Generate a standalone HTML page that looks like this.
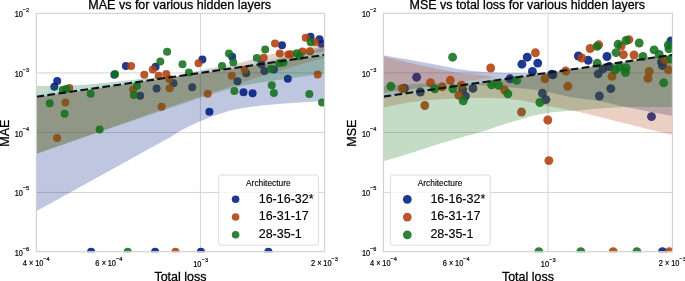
<!DOCTYPE html><html><head><meta charset="utf-8"><style>html,body{margin:0;padding:0;background:#fff;overflow:hidden}svg{display:block}</style></head><body>
<svg style="will-change:transform" width="685" height="281" viewBox="0 0 685 281" font-family='&quot;Liberation Sans&quot;, sans-serif'>
<style>text{stroke:#000;stroke-width:0.28px}text.s{stroke-width:0.18px}text.l{stroke-width:0.14px}text.a{stroke-width:0.12px}</style>
<rect width="685" height="281" fill="#fff"/>
<defs>
<clipPath id="c0"><rect x="36.35" y="13.34" width="288.15" height="238.93"/></clipPath>
<clipPath id="c1"><rect x="383.50" y="13.34" width="288.90" height="238.93"/></clipPath>
</defs>
<g clip-path="url(#c0)">
<line x1="36.35" x2="324.50" y1="72.92" y2="72.92" stroke="#d4d4d4" stroke-width="1"/>
<line x1="36.35" x2="324.50" y1="132.50" y2="132.50" stroke="#d4d4d4" stroke-width="1"/>
<line x1="36.35" x2="324.50" y1="192.44" y2="192.44" stroke="#d4d4d4" stroke-width="1"/>
<line x1="200.40" x2="200.40" y1="13.34" y2="251.67" stroke="#d4d4d4" stroke-width="1"/>
<circle cx="57.20" cy="81.10" r="4.00" fill="rgb(0,28,127)" fill-opacity="0.88"/>
<circle cx="54.30" cy="86.80" r="4.00" fill="rgb(0,28,127)" fill-opacity="0.88"/>
<circle cx="125.90" cy="65.90" r="4.00" fill="rgb(0,28,127)" fill-opacity="0.88"/>
<circle cx="114.40" cy="74.80" r="4.00" fill="rgb(0,28,127)" fill-opacity="0.88"/>
<circle cx="140.20" cy="95.80" r="4.00" fill="rgb(0,28,127)" fill-opacity="0.88"/>
<circle cx="155.60" cy="66.70" r="4.00" fill="rgb(0,28,127)" fill-opacity="0.88"/>
<circle cx="173.50" cy="83.20" r="4.00" fill="rgb(0,28,127)" fill-opacity="0.88"/>
<circle cx="156.60" cy="88.60" r="4.00" fill="rgb(0,28,127)" fill-opacity="0.88"/>
<circle cx="202.40" cy="59.60" r="4.00" fill="rgb(0,28,127)" fill-opacity="0.88"/>
<circle cx="232.20" cy="56.80" r="4.00" fill="rgb(0,28,127)" fill-opacity="0.88"/>
<circle cx="282.00" cy="45.20" r="4.00" fill="rgb(0,28,127)" fill-opacity="0.88"/>
<circle cx="310.50" cy="36.80" r="4.00" fill="rgb(0,28,127)" fill-opacity="0.88"/>
<circle cx="319.50" cy="39.20" r="4.00" fill="rgb(0,28,127)" fill-opacity="0.88"/>
<circle cx="321.50" cy="43.70" r="4.00" fill="rgb(0,28,127)" fill-opacity="0.88"/>
<circle cx="273.90" cy="69.60" r="4.00" fill="rgb(0,28,127)" fill-opacity="0.88"/>
<circle cx="264.30" cy="71.10" r="4.00" fill="rgb(0,28,127)" fill-opacity="0.88"/>
<circle cx="192.20" cy="87.20" r="4.00" fill="rgb(0,28,127)" fill-opacity="0.88"/>
<circle cx="261.50" cy="64.30" r="4.00" fill="rgb(0,28,127)" fill-opacity="0.88"/>
<circle cx="209.40" cy="111.80" r="4.00" fill="rgb(0,28,127)" fill-opacity="0.88"/>
<circle cx="237.50" cy="81.30" r="4.00" fill="rgb(0,28,127)" fill-opacity="0.88"/>
<circle cx="246.20" cy="73.30" r="4.00" fill="rgb(0,28,127)" fill-opacity="0.88"/>
<circle cx="243.50" cy="92.30" r="4.00" fill="rgb(0,28,127)" fill-opacity="0.88"/>
<circle cx="252.60" cy="93.20" r="4.00" fill="rgb(0,28,127)" fill-opacity="0.88"/>
<circle cx="287.80" cy="78.70" r="4.00" fill="rgb(0,28,127)" fill-opacity="0.88"/>
<circle cx="91.10" cy="251.67" r="4.00" fill="rgb(0,28,127)" fill-opacity="0.88"/>
<circle cx="155.10" cy="251.67" r="4.00" fill="rgb(0,28,127)" fill-opacity="0.88"/>
<circle cx="200.90" cy="251.67" r="4.00" fill="rgb(0,28,127)" fill-opacity="0.88"/>
<circle cx="268.40" cy="251.67" r="4.00" fill="rgb(0,28,127)" fill-opacity="0.88"/>
<path d="M35.4,96.86 L37.1,96.61 L38.8,96.36 L40.5,96.11 L42.2,95.86 L43.9,95.61 L45.7,95.36 L47.4,95.11 L49.1,94.86 L50.8,94.61 L52.5,94.36 L54.2,94.11 L56.0,93.87 L57.7,93.62 L59.4,93.37 L61.1,93.12 L62.8,92.87 L64.5,92.62 L66.3,92.37 L68.0,92.12 L69.7,91.87 L71.4,91.62 L73.1,91.37 L74.8,91.13 L76.6,90.88 L78.3,90.63 L80.0,90.38 L81.7,90.13 L83.4,89.88 L85.1,89.63 L86.9,89.38 L88.6,89.13 L90.3,88.88 L92.0,88.63 L93.7,88.39 L95.4,88.14 L97.2,87.89 L98.9,87.64 L100.6,87.39 L102.3,87.14 L104.0,86.89 L105.7,86.64 L107.5,86.39 L109.2,86.14 L110.9,85.89 L112.6,85.64 L114.3,85.40 L116.0,85.15 L117.8,84.90 L119.5,84.65 L121.2,84.40 L122.9,84.15 L124.6,83.90 L126.3,83.65 L128.1,83.40 L129.8,83.15 L131.5,82.90 L133.2,82.66 L134.9,82.41 L136.6,82.16 L138.4,81.91 L140.1,81.66 L141.8,81.41 L143.5,81.16 L145.2,80.91 L146.9,80.66 L148.7,80.41 L150.4,80.16 L152.1,79.92 L153.8,79.67 L155.5,79.42 L157.2,79.17 L159.0,78.92 L160.7,78.67 L162.4,78.42 L164.1,78.17 L165.8,77.92 L167.5,77.67 L169.3,77.42 L171.0,77.17 L172.7,76.93 L174.4,76.68 L176.1,76.43 L177.8,76.18 L179.6,75.93 L181.3,75.68 L183.0,75.43 L184.7,75.18 L186.4,74.93 L188.2,74.68 L189.9,74.43 L191.6,74.19 L193.3,73.94 L195.0,73.69 L196.7,73.44 L198.5,73.19 L200.2,72.94 L201.9,72.69 L203.6,72.44 L205.3,72.19 L207.0,71.94 L208.8,71.69 L210.5,71.45 L212.2,71.20 L213.9,70.95 L215.6,70.70 L217.3,70.45 L219.1,70.20 L220.8,69.95 L222.5,69.70 L224.2,69.45 L225.9,69.20 L227.6,68.95 L229.4,68.70 L231.1,68.46 L232.8,68.21 L234.5,67.96 L236.2,67.71 L237.9,67.46 L239.7,67.08 L241.4,66.68 L243.1,66.28 L244.8,65.88 L246.5,65.50 L248.2,65.11 L250.0,64.73 L251.7,64.36 L253.4,63.99 L255.1,63.61 L256.8,63.24 L258.5,62.87 L260.3,62.50 L262.0,62.13 L263.7,61.76 L265.4,61.38 L267.1,61.01 L268.8,60.62 L270.6,60.24 L272.3,59.85 L274.0,59.45 L275.7,59.04 L277.4,58.63 L279.1,58.21 L280.9,57.78 L282.6,57.35 L284.3,56.92 L286.0,56.47 L287.7,56.03 L289.4,55.58 L291.2,55.12 L292.9,54.67 L294.6,54.20 L296.3,53.74 L298.0,53.26 L299.7,52.79 L301.5,52.31 L303.2,51.83 L304.9,51.34 L306.6,50.85 L308.3,50.35 L310.0,49.85 L311.8,49.35 L313.5,48.84 L315.2,48.33 L316.9,47.82 L318.6,47.30 L320.3,46.78 L322.1,46.25 L323.8,45.72 L325.5,45.19 L325.5,100.95 L323.8,101.04 L322.1,101.12 L320.3,101.21 L318.6,101.30 L316.9,101.40 L315.2,101.49 L313.5,101.59 L311.8,101.69 L310.0,101.79 L308.3,101.90 L306.6,102.01 L304.9,102.11 L303.2,102.23 L301.5,102.34 L299.7,102.45 L298.0,102.57 L296.3,102.69 L294.6,102.81 L292.9,102.93 L291.2,103.05 L289.4,103.18 L287.7,103.30 L286.0,103.43 L284.3,103.56 L282.6,103.69 L280.9,103.83 L279.1,103.96 L277.4,104.10 L275.7,104.25 L274.0,104.39 L272.3,104.55 L270.6,104.70 L268.8,104.86 L267.1,105.02 L265.4,105.19 L263.7,105.36 L262.0,105.54 L260.3,105.73 L258.5,105.92 L256.8,106.14 L255.1,106.37 L253.4,106.61 L251.7,106.86 L250.0,107.11 L248.2,107.35 L246.5,107.60 L244.8,107.85 L243.1,108.10 L241.4,108.36 L239.7,108.64 L237.9,108.93 L236.2,109.24 L234.5,109.57 L232.8,109.93 L231.1,110.36 L229.4,110.83 L227.6,111.34 L225.9,111.88 L224.2,112.43 L222.5,112.97 L220.8,113.51 L219.1,114.06 L217.3,114.63 L215.6,115.21 L213.9,115.81 L212.2,116.43 L210.5,117.08 L208.8,117.75 L207.0,118.45 L205.3,119.16 L203.6,119.89 L201.9,120.62 L200.2,121.36 L198.5,122.09 L196.7,122.84 L195.0,123.60 L193.3,124.37 L191.6,125.15 L189.9,125.96 L188.2,126.79 L186.4,127.63 L184.7,128.48 L183.0,129.37 L181.3,130.29 L179.6,131.25 L177.8,132.28 L176.1,133.38 L174.4,134.50 L172.7,135.62 L171.0,136.71 L169.3,137.73 L167.5,138.71 L165.8,139.67 L164.1,140.61 L162.4,141.54 L160.7,142.46 L159.0,143.39 L157.2,144.32 L155.5,145.26 L153.8,146.21 L152.1,147.15 L150.4,148.10 L148.7,149.05 L146.9,150.00 L145.2,150.95 L143.5,151.89 L141.8,152.84 L140.1,153.79 L138.4,154.74 L136.6,155.69 L134.9,156.64 L133.2,157.59 L131.5,158.54 L129.8,159.49 L128.1,160.44 L126.3,161.39 L124.6,162.35 L122.9,163.30 L121.2,164.25 L119.5,165.20 L117.8,166.15 L116.0,167.10 L114.3,168.05 L112.6,169.00 L110.9,169.95 L109.2,170.90 L107.5,171.85 L105.7,172.80 L104.0,173.75 L102.3,174.70 L100.6,175.65 L98.9,176.60 L97.2,177.55 L95.4,178.50 L93.7,179.45 L92.0,180.40 L90.3,181.35 L88.6,182.30 L86.9,183.25 L85.1,184.20 L83.4,185.15 L81.7,186.10 L80.0,187.05 L78.3,188.00 L76.6,188.95 L74.8,189.90 L73.1,190.85 L71.4,191.80 L69.7,192.75 L68.0,193.70 L66.3,194.65 L64.5,195.60 L62.8,196.55 L61.1,197.50 L59.4,198.46 L57.7,199.41 L56.0,200.36 L54.2,201.31 L52.5,202.26 L50.8,203.21 L49.1,204.16 L47.4,205.11 L45.7,206.06 L43.9,207.01 L42.2,207.96 L40.5,208.91 L38.8,209.86 L37.1,210.81 L35.4,211.76 Z" fill="rgb(0,28,127)" fill-opacity="0.250"/>
<circle cx="69.30" cy="87.90" r="4.00" fill="rgb(177,64,13)" fill-opacity="0.88"/>
<circle cx="65.40" cy="102.40" r="4.00" fill="rgb(177,64,13)" fill-opacity="0.88"/>
<circle cx="57.10" cy="138.10" r="4.00" fill="rgb(177,64,13)" fill-opacity="0.88"/>
<circle cx="131.10" cy="66.10" r="4.00" fill="rgb(177,64,13)" fill-opacity="0.88"/>
<circle cx="144.30" cy="74.80" r="4.00" fill="rgb(177,64,13)" fill-opacity="0.88"/>
<circle cx="152.80" cy="69.50" r="4.00" fill="rgb(177,64,13)" fill-opacity="0.88"/>
<circle cx="158.60" cy="75.80" r="4.00" fill="rgb(177,64,13)" fill-opacity="0.88"/>
<circle cx="166.30" cy="73.90" r="4.00" fill="rgb(177,64,13)" fill-opacity="0.88"/>
<circle cx="169.30" cy="79.10" r="4.00" fill="rgb(177,64,13)" fill-opacity="0.88"/>
<circle cx="169.60" cy="88.30" r="4.00" fill="rgb(177,64,13)" fill-opacity="0.88"/>
<circle cx="133.20" cy="89.60" r="4.00" fill="rgb(177,64,13)" fill-opacity="0.88"/>
<circle cx="161.60" cy="106.70" r="4.00" fill="rgb(177,64,13)" fill-opacity="0.88"/>
<circle cx="198.50" cy="63.30" r="4.00" fill="rgb(177,64,13)" fill-opacity="0.88"/>
<circle cx="244.60" cy="69.60" r="4.00" fill="rgb(177,64,13)" fill-opacity="0.88"/>
<circle cx="263.70" cy="57.80" r="4.00" fill="rgb(177,64,13)" fill-opacity="0.88"/>
<circle cx="275.00" cy="43.40" r="4.00" fill="rgb(177,64,13)" fill-opacity="0.88"/>
<circle cx="279.80" cy="53.50" r="4.00" fill="rgb(177,64,13)" fill-opacity="0.88"/>
<circle cx="288.40" cy="54.50" r="4.00" fill="rgb(177,64,13)" fill-opacity="0.88"/>
<circle cx="290.60" cy="54.30" r="4.00" fill="rgb(177,64,13)" fill-opacity="0.88"/>
<circle cx="302.40" cy="51.40" r="4.00" fill="rgb(177,64,13)" fill-opacity="0.88"/>
<circle cx="310.00" cy="51.30" r="4.00" fill="rgb(177,64,13)" fill-opacity="0.88"/>
<circle cx="305.70" cy="37.70" r="4.00" fill="rgb(177,64,13)" fill-opacity="0.88"/>
<circle cx="315.20" cy="42.10" r="4.00" fill="rgb(177,64,13)" fill-opacity="0.88"/>
<circle cx="317.70" cy="74.50" r="4.00" fill="rgb(177,64,13)" fill-opacity="0.88"/>
<circle cx="207.70" cy="93.70" r="4.00" fill="rgb(177,64,13)" fill-opacity="0.88"/>
<circle cx="231.80" cy="75.80" r="4.00" fill="rgb(177,64,13)" fill-opacity="0.88"/>
<circle cx="175.50" cy="251.67" r="4.00" fill="rgb(177,64,13)" fill-opacity="0.88"/>
<path d="M35.4,96.86 L37.1,96.61 L38.8,96.36 L40.5,96.11 L42.2,95.86 L43.9,95.61 L45.7,95.36 L47.4,95.11 L49.1,94.86 L50.8,94.61 L52.5,94.36 L54.2,94.11 L56.0,93.87 L57.7,93.62 L59.4,93.37 L61.1,93.12 L62.8,92.87 L64.5,92.62 L66.3,92.37 L68.0,92.12 L69.7,91.87 L71.4,91.62 L73.1,91.37 L74.8,91.13 L76.6,90.88 L78.3,90.63 L80.0,90.38 L81.7,90.13 L83.4,89.88 L85.1,89.63 L86.9,89.38 L88.6,89.13 L90.3,88.88 L92.0,88.63 L93.7,88.39 L95.4,88.14 L97.2,87.89 L98.9,87.64 L100.6,87.39 L102.3,87.14 L104.0,86.89 L105.7,86.64 L107.5,86.39 L109.2,86.14 L110.9,85.89 L112.6,85.64 L114.3,85.40 L116.0,85.15 L117.8,84.90 L119.5,84.65 L121.2,84.40 L122.9,84.15 L124.6,83.90 L126.3,83.65 L128.1,83.40 L129.8,83.15 L131.5,82.90 L133.2,82.66 L134.9,82.41 L136.6,82.16 L138.4,81.91 L140.1,81.66 L141.8,81.41 L143.5,81.16 L145.2,80.91 L146.9,80.66 L148.7,80.41 L150.4,80.16 L152.1,79.92 L153.8,79.67 L155.5,79.42 L157.2,79.17 L159.0,78.92 L160.7,78.67 L162.4,78.42 L164.1,78.17 L165.8,77.92 L167.5,77.67 L169.3,77.42 L171.0,77.17 L172.7,76.93 L174.4,76.68 L176.1,76.43 L177.8,75.90 L179.6,75.38 L181.3,74.89 L183.0,74.41 L184.7,73.95 L186.4,73.52 L188.2,73.10 L189.9,72.70 L191.6,72.31 L193.3,71.93 L195.0,71.55 L196.7,71.18 L198.5,70.82 L200.2,70.47 L201.9,70.12 L203.6,69.78 L205.3,69.44 L207.0,69.11 L208.8,68.80 L210.5,68.49 L212.2,68.20 L213.9,67.92 L215.6,67.64 L217.3,67.36 L219.1,67.08 L220.8,66.81 L222.5,66.53 L224.2,66.25 L225.9,65.95 L227.6,65.65 L229.4,65.34 L231.1,65.02 L232.8,64.68 L234.5,64.33 L236.2,63.95 L237.9,63.54 L239.7,63.10 L241.4,62.62 L243.1,62.12 L244.8,61.59 L246.5,61.06 L248.2,60.51 L250.0,59.97 L251.7,59.42 L253.4,58.88 L255.1,58.36 L256.8,57.86 L258.5,57.38 L260.3,56.93 L262.0,56.50 L263.7,56.08 L265.4,55.66 L267.1,55.25 L268.8,54.85 L270.6,54.46 L272.3,54.08 L274.0,53.71 L275.7,53.35 L277.4,53.00 L279.1,52.66 L280.9,52.34 L282.6,52.04 L284.3,51.77 L286.0,51.51 L287.7,51.26 L289.4,51.02 L291.2,50.79 L292.9,50.55 L294.6,50.31 L296.3,50.07 L298.0,49.80 L299.7,49.52 L301.5,49.22 L303.2,48.89 L304.9,48.52 L306.6,48.11 L308.3,47.63 L310.0,47.09 L311.8,46.51 L313.5,45.91 L315.2,45.29 L316.9,44.66 L318.6,44.00 L320.3,43.31 L322.1,42.58 L323.8,41.82 L325.5,41.04 L325.5,57.53 L323.8,57.99 L322.1,58.45 L320.3,58.91 L318.6,59.38 L316.9,59.84 L315.2,60.31 L313.5,60.79 L311.8,61.26 L310.0,61.74 L308.3,62.22 L306.6,62.70 L304.9,63.19 L303.2,63.68 L301.5,64.17 L299.7,64.66 L298.0,65.15 L296.3,65.65 L294.6,66.15 L292.9,66.65 L291.2,67.16 L289.4,67.66 L287.7,68.17 L286.0,68.69 L284.3,69.21 L282.6,69.73 L280.9,70.25 L279.1,70.78 L277.4,71.31 L275.7,71.84 L274.0,72.38 L272.3,72.91 L270.6,73.45 L268.8,73.99 L267.1,74.54 L265.4,75.08 L263.7,75.63 L262.0,76.17 L260.3,76.72 L258.5,77.27 L256.8,77.82 L255.1,78.37 L253.4,78.93 L251.7,79.48 L250.0,80.04 L248.2,80.60 L246.5,81.17 L244.8,81.73 L243.1,82.30 L241.4,82.86 L239.7,83.43 L237.9,84.00 L236.2,84.57 L234.5,85.13 L232.8,85.70 L231.1,86.27 L229.4,86.84 L227.6,87.41 L225.9,87.98 L224.2,88.55 L222.5,89.12 L220.8,89.69 L219.1,90.27 L217.3,90.84 L215.6,91.42 L213.9,91.99 L212.2,92.57 L210.5,93.14 L208.8,93.72 L207.0,94.29 L205.3,94.87 L203.6,95.44 L201.9,96.02 L200.2,96.59 L198.5,97.17 L196.7,97.74 L195.0,98.31 L193.3,98.89 L191.6,99.46 L189.9,100.04 L188.2,100.61 L186.4,101.19 L184.7,101.77 L183.0,102.35 L181.3,102.92 L179.6,103.50 L177.8,104.08 L176.1,104.67 L174.4,105.25 L172.7,105.83 L171.0,106.42 L169.3,107.00 L167.5,107.59 L165.8,108.18 L164.1,108.77 L162.4,109.37 L160.7,109.96 L159.0,110.56 L157.2,111.16 L155.5,111.77 L153.8,112.37 L152.1,112.98 L150.4,113.59 L148.7,114.21 L146.9,114.82 L145.2,115.44 L143.5,116.06 L141.8,116.67 L140.1,117.29 L138.4,117.91 L136.6,118.54 L134.9,119.16 L133.2,119.78 L131.5,120.40 L129.8,121.02 L128.1,121.63 L126.3,122.25 L124.6,122.87 L122.9,123.48 L121.2,124.09 L119.5,124.70 L117.8,125.31 L116.0,125.91 L114.3,126.52 L112.6,127.12 L110.9,127.72 L109.2,128.32 L107.5,128.92 L105.7,129.52 L104.0,130.12 L102.3,130.71 L100.6,131.31 L98.9,131.91 L97.2,132.50 L95.4,133.10 L93.7,133.69 L92.0,134.29 L90.3,134.88 L88.6,135.48 L86.9,136.07 L85.1,136.67 L83.4,137.26 L81.7,137.86 L80.0,138.45 L78.3,139.05 L76.6,139.64 L74.8,140.24 L73.1,140.84 L71.4,141.43 L69.7,142.03 L68.0,142.62 L66.3,143.22 L64.5,143.82 L62.8,144.41 L61.1,145.01 L59.4,145.60 L57.7,146.20 L56.0,146.79 L54.2,147.39 L52.5,147.98 L50.8,148.58 L49.1,149.17 L47.4,149.77 L45.7,150.36 L43.9,150.95 L42.2,151.55 L40.5,152.14 L38.8,152.74 L37.1,153.33 L35.4,153.92 Z" fill="rgb(177,64,13)" fill-opacity="0.250"/>
<circle cx="62.80" cy="90.00" r="4.00" fill="rgb(18,113,28)" fill-opacity="0.88"/>
<circle cx="66.10" cy="89.10" r="4.00" fill="rgb(18,113,28)" fill-opacity="0.88"/>
<circle cx="90.70" cy="93.70" r="4.00" fill="rgb(18,113,28)" fill-opacity="0.88"/>
<circle cx="49.70" cy="103.30" r="4.00" fill="rgb(18,113,28)" fill-opacity="0.88"/>
<circle cx="64.60" cy="113.80" r="4.00" fill="rgb(18,113,28)" fill-opacity="0.88"/>
<circle cx="99.60" cy="129.60" r="4.00" fill="rgb(18,113,28)" fill-opacity="0.88"/>
<circle cx="115.00" cy="74.00" r="4.00" fill="rgb(18,113,28)" fill-opacity="0.88"/>
<circle cx="137.00" cy="85.70" r="4.00" fill="rgb(18,113,28)" fill-opacity="0.88"/>
<circle cx="133.80" cy="94.90" r="4.00" fill="rgb(18,113,28)" fill-opacity="0.88"/>
<circle cx="160.30" cy="61.60" r="4.00" fill="rgb(18,113,28)" fill-opacity="0.88"/>
<circle cx="167.10" cy="51.80" r="4.00" fill="rgb(18,113,28)" fill-opacity="0.88"/>
<circle cx="182.50" cy="64.30" r="4.00" fill="rgb(18,113,28)" fill-opacity="0.88"/>
<circle cx="188.90" cy="72.60" r="4.00" fill="rgb(18,113,28)" fill-opacity="0.88"/>
<circle cx="229.00" cy="53.60" r="4.00" fill="rgb(18,113,28)" fill-opacity="0.88"/>
<circle cx="233.30" cy="62.50" r="4.00" fill="rgb(18,113,28)" fill-opacity="0.88"/>
<circle cx="222.00" cy="66.00" r="4.00" fill="rgb(18,113,28)" fill-opacity="0.88"/>
<circle cx="256.80" cy="57.90" r="4.00" fill="rgb(18,113,28)" fill-opacity="0.88"/>
<circle cx="265.20" cy="49.60" r="4.00" fill="rgb(18,113,28)" fill-opacity="0.88"/>
<circle cx="296.90" cy="53.20" r="4.00" fill="rgb(18,113,28)" fill-opacity="0.88"/>
<circle cx="299.50" cy="56.30" r="4.00" fill="rgb(18,113,28)" fill-opacity="0.88"/>
<circle cx="310.70" cy="42.30" r="4.00" fill="rgb(18,113,28)" fill-opacity="0.88"/>
<circle cx="279.20" cy="63.20" r="4.00" fill="rgb(18,113,28)" fill-opacity="0.88"/>
<circle cx="283.50" cy="62.50" r="4.00" fill="rgb(18,113,28)" fill-opacity="0.88"/>
<circle cx="270.90" cy="68.70" r="4.00" fill="rgb(18,113,28)" fill-opacity="0.88"/>
<circle cx="234.40" cy="90.90" r="4.00" fill="rgb(18,113,28)" fill-opacity="0.88"/>
<circle cx="271.80" cy="85.20" r="4.00" fill="rgb(18,113,28)" fill-opacity="0.88"/>
<circle cx="273.90" cy="93.10" r="4.00" fill="rgb(18,113,28)" fill-opacity="0.88"/>
<circle cx="309.30" cy="94.00" r="4.00" fill="rgb(18,113,28)" fill-opacity="0.88"/>
<circle cx="322.00" cy="102.50" r="4.00" fill="rgb(18,113,28)" fill-opacity="0.88"/>
<circle cx="127.70" cy="251.67" r="4.00" fill="rgb(18,113,28)" fill-opacity="0.88"/>
<path d="M35.4,86.00 L37.1,86.00 L38.8,86.00 L40.5,85.99 L42.2,85.98 L43.9,85.96 L45.7,85.95 L47.4,85.93 L49.1,85.90 L50.8,85.88 L52.5,85.85 L54.2,85.82 L56.0,85.79 L57.7,85.75 L59.4,85.72 L61.1,85.68 L62.8,85.64 L64.5,85.60 L66.3,85.55 L68.0,85.51 L69.7,85.46 L71.4,85.42 L73.1,85.37 L74.8,85.30 L76.6,85.23 L78.3,85.14 L80.0,85.04 L81.7,84.93 L83.4,84.81 L85.1,84.68 L86.9,84.54 L88.6,84.40 L90.3,84.25 L92.0,84.10 L93.7,83.94 L95.4,83.78 L97.2,83.62 L98.9,83.46 L100.6,83.29 L102.3,83.13 L104.0,82.97 L105.7,82.81 L107.5,82.66 L109.2,82.50 L110.9,82.33 L112.6,82.16 L114.3,81.98 L116.0,81.80 L117.8,81.61 L119.5,81.42 L121.2,81.23 L122.9,81.03 L124.6,80.84 L126.3,80.64 L128.1,80.45 L129.8,80.26 L131.5,80.07 L133.2,79.88 L134.9,79.70 L136.6,79.53 L138.4,79.36 L140.1,79.19 L141.8,79.03 L143.5,78.88 L145.2,78.72 L146.9,78.57 L148.7,78.41 L150.4,78.27 L152.1,78.12 L153.8,77.98 L155.5,77.84 L157.2,77.71 L159.0,77.58 L160.7,77.45 L162.4,77.33 L164.1,77.22 L165.8,77.11 L167.5,77.00 L169.3,76.90 L171.0,76.80 L172.7,76.71 L174.4,76.61 L176.1,76.43 L177.8,76.18 L179.6,75.93 L181.3,75.68 L183.0,75.43 L184.7,75.18 L186.4,74.93 L188.2,74.68 L189.9,74.43 L191.6,74.19 L193.3,73.94 L195.0,73.69 L196.7,73.44 L198.5,73.19 L200.2,72.94 L201.9,72.69 L203.6,72.44 L205.3,72.19 L207.0,71.94 L208.8,71.69 L210.5,71.45 L212.2,71.20 L213.9,70.95 L215.6,70.70 L217.3,70.45 L219.1,70.20 L220.8,69.95 L222.5,69.70 L224.2,69.45 L225.9,69.20 L227.6,68.95 L229.4,68.70 L231.1,68.46 L232.8,68.21 L234.5,67.96 L236.2,67.71 L237.9,67.46 L239.7,67.21 L241.4,66.96 L243.1,66.71 L244.8,66.46 L246.5,66.21 L248.2,65.96 L250.0,65.72 L251.7,65.47 L253.4,65.22 L255.1,64.97 L256.8,64.72 L258.5,64.47 L260.3,64.22 L262.0,63.97 L263.7,63.72 L265.4,63.47 L267.1,63.22 L268.8,62.98 L270.6,62.73 L272.3,62.48 L274.0,62.23 L275.7,61.95 L277.4,61.48 L279.1,61.01 L280.9,60.53 L282.6,60.06 L284.3,59.58 L286.0,59.10 L287.7,58.63 L289.4,58.15 L291.2,57.68 L292.9,57.20 L294.6,56.72 L296.3,56.23 L298.0,55.73 L299.7,55.23 L301.5,54.72 L303.2,54.21 L304.9,53.70 L306.6,53.18 L308.3,52.65 L310.0,52.12 L311.8,51.59 L313.5,51.05 L315.2,50.51 L316.9,49.96 L318.6,49.41 L320.3,48.86 L322.1,48.30 L323.8,47.74 L325.5,47.17 L325.5,73.15 L323.8,73.41 L322.1,73.66 L320.3,73.91 L318.6,74.16 L316.9,74.41 L315.2,74.67 L313.5,74.92 L311.8,75.17 L310.0,75.42 L308.3,75.67 L306.6,75.91 L304.9,76.16 L303.2,76.41 L301.5,76.66 L299.7,76.91 L298.0,77.15 L296.3,77.40 L294.6,77.64 L292.9,77.89 L291.2,78.13 L289.4,78.38 L287.7,78.62 L286.0,78.85 L284.3,79.08 L282.6,79.31 L280.9,79.54 L279.1,79.76 L277.4,79.99 L275.7,80.21 L274.0,80.44 L272.3,80.67 L270.6,80.91 L268.8,81.15 L267.1,81.39 L265.4,81.65 L263.7,81.91 L262.0,82.18 L260.3,82.46 L258.5,82.75 L256.8,83.04 L255.1,83.35 L253.4,83.66 L251.7,83.99 L250.0,84.32 L248.2,84.66 L246.5,85.01 L244.8,85.36 L243.1,85.73 L241.4,86.10 L239.7,86.48 L237.9,86.87 L236.2,87.27 L234.5,87.68 L232.8,88.10 L231.1,88.53 L229.4,88.99 L227.6,89.46 L225.9,89.94 L224.2,90.44 L222.5,90.95 L220.8,91.47 L219.1,91.99 L217.3,92.52 L215.6,93.05 L213.9,93.59 L212.2,94.12 L210.5,94.65 L208.8,95.19 L207.0,95.72 L205.3,96.27 L203.6,96.81 L201.9,97.37 L200.2,97.92 L198.5,98.48 L196.7,99.05 L195.0,99.62 L193.3,100.19 L191.6,100.76 L189.9,101.34 L188.2,101.92 L186.4,102.50 L184.7,103.08 L183.0,103.67 L181.3,104.25 L179.6,104.84 L177.8,105.43 L176.1,106.01 L174.4,106.60 L172.7,107.19 L171.0,107.78 L169.3,108.36 L167.5,108.95 L165.8,109.53 L164.1,110.11 L162.4,110.69 L160.7,111.27 L159.0,111.85 L157.2,112.42 L155.5,113.00 L153.8,113.57 L152.1,114.15 L150.4,114.72 L148.7,115.30 L146.9,115.87 L145.2,116.45 L143.5,117.02 L141.8,117.60 L140.1,118.17 L138.4,118.75 L136.6,119.33 L134.9,119.90 L133.2,120.48 L131.5,121.06 L129.8,121.64 L128.1,122.22 L126.3,122.80 L124.6,123.38 L122.9,123.96 L121.2,124.54 L119.5,125.13 L117.8,125.71 L116.0,126.30 L114.3,126.88 L112.6,127.47 L110.9,128.06 L109.2,128.64 L107.5,129.23 L105.7,129.82 L104.0,130.41 L102.3,131.00 L100.6,131.59 L98.9,132.18 L97.2,132.77 L95.4,133.36 L93.7,133.95 L92.0,134.54 L90.3,135.13 L88.6,135.73 L86.9,136.32 L85.1,136.91 L83.4,137.50 L81.7,138.10 L80.0,138.69 L78.3,139.29 L76.6,139.88 L74.8,140.48 L73.1,141.08 L71.4,141.67 L69.7,142.27 L68.0,142.87 L66.3,143.47 L64.5,144.07 L62.8,144.67 L61.1,145.27 L59.4,145.87 L57.7,146.47 L56.0,147.07 L54.2,147.67 L52.5,148.27 L50.8,148.88 L49.1,149.48 L47.4,150.08 L45.7,150.69 L43.9,151.29 L42.2,151.90 L40.5,152.51 L38.8,153.11 L37.1,153.72 L35.4,154.33 Z" fill="rgb(18,113,28)" fill-opacity="0.250"/>
<mask id="m0" maskUnits="userSpaceOnUse" x="0" y="0" width="685" height="281"><rect width="685" height="281" fill="#000"/><path d="M35.4,96.86 L37.1,96.61 L38.8,96.36 L40.5,96.11 L42.2,95.86 L43.9,95.61 L45.7,95.36 L47.4,95.11 L49.1,94.86 L50.8,94.61 L52.5,94.36 L54.2,94.11 L56.0,93.87 L57.7,93.62 L59.4,93.37 L61.1,93.12 L62.8,92.87 L64.5,92.62 L66.3,92.37 L68.0,92.12 L69.7,91.87 L71.4,91.62 L73.1,91.37 L74.8,91.13 L76.6,90.88 L78.3,90.63 L80.0,90.38 L81.7,90.13 L83.4,89.88 L85.1,89.63 L86.9,89.38 L88.6,89.13 L90.3,88.88 L92.0,88.63 L93.7,88.39 L95.4,88.14 L97.2,87.89 L98.9,87.64 L100.6,87.39 L102.3,87.14 L104.0,86.89 L105.7,86.64 L107.5,86.39 L109.2,86.14 L110.9,85.89 L112.6,85.64 L114.3,85.40 L116.0,85.15 L117.8,84.90 L119.5,84.65 L121.2,84.40 L122.9,84.15 L124.6,83.90 L126.3,83.65 L128.1,83.40 L129.8,83.15 L131.5,82.90 L133.2,82.66 L134.9,82.41 L136.6,82.16 L138.4,81.91 L140.1,81.66 L141.8,81.41 L143.5,81.16 L145.2,80.91 L146.9,80.66 L148.7,80.41 L150.4,80.16 L152.1,79.92 L153.8,79.67 L155.5,79.42 L157.2,79.17 L159.0,78.92 L160.7,78.67 L162.4,78.42 L164.1,78.17 L165.8,77.92 L167.5,77.67 L169.3,77.42 L171.0,77.17 L172.7,76.93 L174.4,76.68 L176.1,76.43 L177.8,76.18 L179.6,75.93 L181.3,75.68 L183.0,75.43 L184.7,75.18 L186.4,74.93 L188.2,74.68 L189.9,74.43 L191.6,74.19 L193.3,73.94 L195.0,73.69 L196.7,73.44 L198.5,73.19 L200.2,72.94 L201.9,72.69 L203.6,72.44 L205.3,72.19 L207.0,71.94 L208.8,71.69 L210.5,71.45 L212.2,71.20 L213.9,70.95 L215.6,70.70 L217.3,70.45 L219.1,70.20 L220.8,69.95 L222.5,69.70 L224.2,69.45 L225.9,69.20 L227.6,68.95 L229.4,68.70 L231.1,68.46 L232.8,68.21 L234.5,67.96 L236.2,67.71 L237.9,67.46 L239.7,67.08 L241.4,66.68 L243.1,66.28 L244.8,65.88 L246.5,65.50 L248.2,65.11 L250.0,64.73 L251.7,64.36 L253.4,63.99 L255.1,63.61 L256.8,63.24 L258.5,62.87 L260.3,62.50 L262.0,62.13 L263.7,61.76 L265.4,61.38 L267.1,61.01 L268.8,60.62 L270.6,60.24 L272.3,59.85 L274.0,59.45 L275.7,59.04 L277.4,58.63 L279.1,58.21 L280.9,57.78 L282.6,57.35 L284.3,56.92 L286.0,56.47 L287.7,56.03 L289.4,55.58 L291.2,55.12 L292.9,54.67 L294.6,54.20 L296.3,53.74 L298.0,53.26 L299.7,52.79 L301.5,52.31 L303.2,51.83 L304.9,51.34 L306.6,50.85 L308.3,50.35 L310.0,49.85 L311.8,49.35 L313.5,48.84 L315.2,48.33 L316.9,47.82 L318.6,47.30 L320.3,46.78 L322.1,46.25 L323.8,45.72 L325.5,45.19 L325.5,100.95 L323.8,101.04 L322.1,101.12 L320.3,101.21 L318.6,101.30 L316.9,101.40 L315.2,101.49 L313.5,101.59 L311.8,101.69 L310.0,101.79 L308.3,101.90 L306.6,102.01 L304.9,102.11 L303.2,102.23 L301.5,102.34 L299.7,102.45 L298.0,102.57 L296.3,102.69 L294.6,102.81 L292.9,102.93 L291.2,103.05 L289.4,103.18 L287.7,103.30 L286.0,103.43 L284.3,103.56 L282.6,103.69 L280.9,103.83 L279.1,103.96 L277.4,104.10 L275.7,104.25 L274.0,104.39 L272.3,104.55 L270.6,104.70 L268.8,104.86 L267.1,105.02 L265.4,105.19 L263.7,105.36 L262.0,105.54 L260.3,105.73 L258.5,105.92 L256.8,106.14 L255.1,106.37 L253.4,106.61 L251.7,106.86 L250.0,107.11 L248.2,107.35 L246.5,107.60 L244.8,107.85 L243.1,108.10 L241.4,108.36 L239.7,108.64 L237.9,108.93 L236.2,109.24 L234.5,109.57 L232.8,109.93 L231.1,110.36 L229.4,110.83 L227.6,111.34 L225.9,111.88 L224.2,112.43 L222.5,112.97 L220.8,113.51 L219.1,114.06 L217.3,114.63 L215.6,115.21 L213.9,115.81 L212.2,116.43 L210.5,117.08 L208.8,117.75 L207.0,118.45 L205.3,119.16 L203.6,119.89 L201.9,120.62 L200.2,121.36 L198.5,122.09 L196.7,122.84 L195.0,123.60 L193.3,124.37 L191.6,125.15 L189.9,125.96 L188.2,126.79 L186.4,127.63 L184.7,128.48 L183.0,129.37 L181.3,130.29 L179.6,131.25 L177.8,132.28 L176.1,133.38 L174.4,134.50 L172.7,135.62 L171.0,136.71 L169.3,137.73 L167.5,138.71 L165.8,139.67 L164.1,140.61 L162.4,141.54 L160.7,142.46 L159.0,143.39 L157.2,144.32 L155.5,145.26 L153.8,146.21 L152.1,147.15 L150.4,148.10 L148.7,149.05 L146.9,150.00 L145.2,150.95 L143.5,151.89 L141.8,152.84 L140.1,153.79 L138.4,154.74 L136.6,155.69 L134.9,156.64 L133.2,157.59 L131.5,158.54 L129.8,159.49 L128.1,160.44 L126.3,161.39 L124.6,162.35 L122.9,163.30 L121.2,164.25 L119.5,165.20 L117.8,166.15 L116.0,167.10 L114.3,168.05 L112.6,169.00 L110.9,169.95 L109.2,170.90 L107.5,171.85 L105.7,172.80 L104.0,173.75 L102.3,174.70 L100.6,175.65 L98.9,176.60 L97.2,177.55 L95.4,178.50 L93.7,179.45 L92.0,180.40 L90.3,181.35 L88.6,182.30 L86.9,183.25 L85.1,184.20 L83.4,185.15 L81.7,186.10 L80.0,187.05 L78.3,188.00 L76.6,188.95 L74.8,189.90 L73.1,190.85 L71.4,191.80 L69.7,192.75 L68.0,193.70 L66.3,194.65 L64.5,195.60 L62.8,196.55 L61.1,197.50 L59.4,198.46 L57.7,199.41 L56.0,200.36 L54.2,201.31 L52.5,202.26 L50.8,203.21 L49.1,204.16 L47.4,205.11 L45.7,206.06 L43.9,207.01 L42.2,207.96 L40.5,208.91 L38.8,209.86 L37.1,210.81 L35.4,211.76 Z" fill="#fff"/><path d="M35.4,96.86 L37.1,96.61 L38.8,96.36 L40.5,96.11 L42.2,95.86 L43.9,95.61 L45.7,95.36 L47.4,95.11 L49.1,94.86 L50.8,94.61 L52.5,94.36 L54.2,94.11 L56.0,93.87 L57.7,93.62 L59.4,93.37 L61.1,93.12 L62.8,92.87 L64.5,92.62 L66.3,92.37 L68.0,92.12 L69.7,91.87 L71.4,91.62 L73.1,91.37 L74.8,91.13 L76.6,90.88 L78.3,90.63 L80.0,90.38 L81.7,90.13 L83.4,89.88 L85.1,89.63 L86.9,89.38 L88.6,89.13 L90.3,88.88 L92.0,88.63 L93.7,88.39 L95.4,88.14 L97.2,87.89 L98.9,87.64 L100.6,87.39 L102.3,87.14 L104.0,86.89 L105.7,86.64 L107.5,86.39 L109.2,86.14 L110.9,85.89 L112.6,85.64 L114.3,85.40 L116.0,85.15 L117.8,84.90 L119.5,84.65 L121.2,84.40 L122.9,84.15 L124.6,83.90 L126.3,83.65 L128.1,83.40 L129.8,83.15 L131.5,82.90 L133.2,82.66 L134.9,82.41 L136.6,82.16 L138.4,81.91 L140.1,81.66 L141.8,81.41 L143.5,81.16 L145.2,80.91 L146.9,80.66 L148.7,80.41 L150.4,80.16 L152.1,79.92 L153.8,79.67 L155.5,79.42 L157.2,79.17 L159.0,78.92 L160.7,78.67 L162.4,78.42 L164.1,78.17 L165.8,77.92 L167.5,77.67 L169.3,77.42 L171.0,77.17 L172.7,76.93 L174.4,76.68 L176.1,76.43 L177.8,75.90 L179.6,75.38 L181.3,74.89 L183.0,74.41 L184.7,73.95 L186.4,73.52 L188.2,73.10 L189.9,72.70 L191.6,72.31 L193.3,71.93 L195.0,71.55 L196.7,71.18 L198.5,70.82 L200.2,70.47 L201.9,70.12 L203.6,69.78 L205.3,69.44 L207.0,69.11 L208.8,68.80 L210.5,68.49 L212.2,68.20 L213.9,67.92 L215.6,67.64 L217.3,67.36 L219.1,67.08 L220.8,66.81 L222.5,66.53 L224.2,66.25 L225.9,65.95 L227.6,65.65 L229.4,65.34 L231.1,65.02 L232.8,64.68 L234.5,64.33 L236.2,63.95 L237.9,63.54 L239.7,63.10 L241.4,62.62 L243.1,62.12 L244.8,61.59 L246.5,61.06 L248.2,60.51 L250.0,59.97 L251.7,59.42 L253.4,58.88 L255.1,58.36 L256.8,57.86 L258.5,57.38 L260.3,56.93 L262.0,56.50 L263.7,56.08 L265.4,55.66 L267.1,55.25 L268.8,54.85 L270.6,54.46 L272.3,54.08 L274.0,53.71 L275.7,53.35 L277.4,53.00 L279.1,52.66 L280.9,52.34 L282.6,52.04 L284.3,51.77 L286.0,51.51 L287.7,51.26 L289.4,51.02 L291.2,50.79 L292.9,50.55 L294.6,50.31 L296.3,50.07 L298.0,49.80 L299.7,49.52 L301.5,49.22 L303.2,48.89 L304.9,48.52 L306.6,48.11 L308.3,47.63 L310.0,47.09 L311.8,46.51 L313.5,45.91 L315.2,45.29 L316.9,44.66 L318.6,44.00 L320.3,43.31 L322.1,42.58 L323.8,41.82 L325.5,41.04 L325.5,57.53 L323.8,57.99 L322.1,58.45 L320.3,58.91 L318.6,59.38 L316.9,59.84 L315.2,60.31 L313.5,60.79 L311.8,61.26 L310.0,61.74 L308.3,62.22 L306.6,62.70 L304.9,63.19 L303.2,63.68 L301.5,64.17 L299.7,64.66 L298.0,65.15 L296.3,65.65 L294.6,66.15 L292.9,66.65 L291.2,67.16 L289.4,67.66 L287.7,68.17 L286.0,68.69 L284.3,69.21 L282.6,69.73 L280.9,70.25 L279.1,70.78 L277.4,71.31 L275.7,71.84 L274.0,72.38 L272.3,72.91 L270.6,73.45 L268.8,73.99 L267.1,74.54 L265.4,75.08 L263.7,75.63 L262.0,76.17 L260.3,76.72 L258.5,77.27 L256.8,77.82 L255.1,78.37 L253.4,78.93 L251.7,79.48 L250.0,80.04 L248.2,80.60 L246.5,81.17 L244.8,81.73 L243.1,82.30 L241.4,82.86 L239.7,83.43 L237.9,84.00 L236.2,84.57 L234.5,85.13 L232.8,85.70 L231.1,86.27 L229.4,86.84 L227.6,87.41 L225.9,87.98 L224.2,88.55 L222.5,89.12 L220.8,89.69 L219.1,90.27 L217.3,90.84 L215.6,91.42 L213.9,91.99 L212.2,92.57 L210.5,93.14 L208.8,93.72 L207.0,94.29 L205.3,94.87 L203.6,95.44 L201.9,96.02 L200.2,96.59 L198.5,97.17 L196.7,97.74 L195.0,98.31 L193.3,98.89 L191.6,99.46 L189.9,100.04 L188.2,100.61 L186.4,101.19 L184.7,101.77 L183.0,102.35 L181.3,102.92 L179.6,103.50 L177.8,104.08 L176.1,104.67 L174.4,105.25 L172.7,105.83 L171.0,106.42 L169.3,107.00 L167.5,107.59 L165.8,108.18 L164.1,108.77 L162.4,109.37 L160.7,109.96 L159.0,110.56 L157.2,111.16 L155.5,111.77 L153.8,112.37 L152.1,112.98 L150.4,113.59 L148.7,114.21 L146.9,114.82 L145.2,115.44 L143.5,116.06 L141.8,116.67 L140.1,117.29 L138.4,117.91 L136.6,118.54 L134.9,119.16 L133.2,119.78 L131.5,120.40 L129.8,121.02 L128.1,121.63 L126.3,122.25 L124.6,122.87 L122.9,123.48 L121.2,124.09 L119.5,124.70 L117.8,125.31 L116.0,125.91 L114.3,126.52 L112.6,127.12 L110.9,127.72 L109.2,128.32 L107.5,128.92 L105.7,129.52 L104.0,130.12 L102.3,130.71 L100.6,131.31 L98.9,131.91 L97.2,132.50 L95.4,133.10 L93.7,133.69 L92.0,134.29 L90.3,134.88 L88.6,135.48 L86.9,136.07 L85.1,136.67 L83.4,137.26 L81.7,137.86 L80.0,138.45 L78.3,139.05 L76.6,139.64 L74.8,140.24 L73.1,140.84 L71.4,141.43 L69.7,142.03 L68.0,142.62 L66.3,143.22 L64.5,143.82 L62.8,144.41 L61.1,145.01 L59.4,145.60 L57.7,146.20 L56.0,146.79 L54.2,147.39 L52.5,147.98 L50.8,148.58 L49.1,149.17 L47.4,149.77 L45.7,150.36 L43.9,150.95 L42.2,151.55 L40.5,152.14 L38.8,152.74 L37.1,153.33 L35.4,153.92 Z" fill="#fff"/><path d="M35.4,86.00 L37.1,86.00 L38.8,86.00 L40.5,85.99 L42.2,85.98 L43.9,85.96 L45.7,85.95 L47.4,85.93 L49.1,85.90 L50.8,85.88 L52.5,85.85 L54.2,85.82 L56.0,85.79 L57.7,85.75 L59.4,85.72 L61.1,85.68 L62.8,85.64 L64.5,85.60 L66.3,85.55 L68.0,85.51 L69.7,85.46 L71.4,85.42 L73.1,85.37 L74.8,85.30 L76.6,85.23 L78.3,85.14 L80.0,85.04 L81.7,84.93 L83.4,84.81 L85.1,84.68 L86.9,84.54 L88.6,84.40 L90.3,84.25 L92.0,84.10 L93.7,83.94 L95.4,83.78 L97.2,83.62 L98.9,83.46 L100.6,83.29 L102.3,83.13 L104.0,82.97 L105.7,82.81 L107.5,82.66 L109.2,82.50 L110.9,82.33 L112.6,82.16 L114.3,81.98 L116.0,81.80 L117.8,81.61 L119.5,81.42 L121.2,81.23 L122.9,81.03 L124.6,80.84 L126.3,80.64 L128.1,80.45 L129.8,80.26 L131.5,80.07 L133.2,79.88 L134.9,79.70 L136.6,79.53 L138.4,79.36 L140.1,79.19 L141.8,79.03 L143.5,78.88 L145.2,78.72 L146.9,78.57 L148.7,78.41 L150.4,78.27 L152.1,78.12 L153.8,77.98 L155.5,77.84 L157.2,77.71 L159.0,77.58 L160.7,77.45 L162.4,77.33 L164.1,77.22 L165.8,77.11 L167.5,77.00 L169.3,76.90 L171.0,76.80 L172.7,76.71 L174.4,76.61 L176.1,76.43 L177.8,76.18 L179.6,75.93 L181.3,75.68 L183.0,75.43 L184.7,75.18 L186.4,74.93 L188.2,74.68 L189.9,74.43 L191.6,74.19 L193.3,73.94 L195.0,73.69 L196.7,73.44 L198.5,73.19 L200.2,72.94 L201.9,72.69 L203.6,72.44 L205.3,72.19 L207.0,71.94 L208.8,71.69 L210.5,71.45 L212.2,71.20 L213.9,70.95 L215.6,70.70 L217.3,70.45 L219.1,70.20 L220.8,69.95 L222.5,69.70 L224.2,69.45 L225.9,69.20 L227.6,68.95 L229.4,68.70 L231.1,68.46 L232.8,68.21 L234.5,67.96 L236.2,67.71 L237.9,67.46 L239.7,67.21 L241.4,66.96 L243.1,66.71 L244.8,66.46 L246.5,66.21 L248.2,65.96 L250.0,65.72 L251.7,65.47 L253.4,65.22 L255.1,64.97 L256.8,64.72 L258.5,64.47 L260.3,64.22 L262.0,63.97 L263.7,63.72 L265.4,63.47 L267.1,63.22 L268.8,62.98 L270.6,62.73 L272.3,62.48 L274.0,62.23 L275.7,61.95 L277.4,61.48 L279.1,61.01 L280.9,60.53 L282.6,60.06 L284.3,59.58 L286.0,59.10 L287.7,58.63 L289.4,58.15 L291.2,57.68 L292.9,57.20 L294.6,56.72 L296.3,56.23 L298.0,55.73 L299.7,55.23 L301.5,54.72 L303.2,54.21 L304.9,53.70 L306.6,53.18 L308.3,52.65 L310.0,52.12 L311.8,51.59 L313.5,51.05 L315.2,50.51 L316.9,49.96 L318.6,49.41 L320.3,48.86 L322.1,48.30 L323.8,47.74 L325.5,47.17 L325.5,73.15 L323.8,73.41 L322.1,73.66 L320.3,73.91 L318.6,74.16 L316.9,74.41 L315.2,74.67 L313.5,74.92 L311.8,75.17 L310.0,75.42 L308.3,75.67 L306.6,75.91 L304.9,76.16 L303.2,76.41 L301.5,76.66 L299.7,76.91 L298.0,77.15 L296.3,77.40 L294.6,77.64 L292.9,77.89 L291.2,78.13 L289.4,78.38 L287.7,78.62 L286.0,78.85 L284.3,79.08 L282.6,79.31 L280.9,79.54 L279.1,79.76 L277.4,79.99 L275.7,80.21 L274.0,80.44 L272.3,80.67 L270.6,80.91 L268.8,81.15 L267.1,81.39 L265.4,81.65 L263.7,81.91 L262.0,82.18 L260.3,82.46 L258.5,82.75 L256.8,83.04 L255.1,83.35 L253.4,83.66 L251.7,83.99 L250.0,84.32 L248.2,84.66 L246.5,85.01 L244.8,85.36 L243.1,85.73 L241.4,86.10 L239.7,86.48 L237.9,86.87 L236.2,87.27 L234.5,87.68 L232.8,88.10 L231.1,88.53 L229.4,88.99 L227.6,89.46 L225.9,89.94 L224.2,90.44 L222.5,90.95 L220.8,91.47 L219.1,91.99 L217.3,92.52 L215.6,93.05 L213.9,93.59 L212.2,94.12 L210.5,94.65 L208.8,95.19 L207.0,95.72 L205.3,96.27 L203.6,96.81 L201.9,97.37 L200.2,97.92 L198.5,98.48 L196.7,99.05 L195.0,99.62 L193.3,100.19 L191.6,100.76 L189.9,101.34 L188.2,101.92 L186.4,102.50 L184.7,103.08 L183.0,103.67 L181.3,104.25 L179.6,104.84 L177.8,105.43 L176.1,106.01 L174.4,106.60 L172.7,107.19 L171.0,107.78 L169.3,108.36 L167.5,108.95 L165.8,109.53 L164.1,110.11 L162.4,110.69 L160.7,111.27 L159.0,111.85 L157.2,112.42 L155.5,113.00 L153.8,113.57 L152.1,114.15 L150.4,114.72 L148.7,115.30 L146.9,115.87 L145.2,116.45 L143.5,117.02 L141.8,117.60 L140.1,118.17 L138.4,118.75 L136.6,119.33 L134.9,119.90 L133.2,120.48 L131.5,121.06 L129.8,121.64 L128.1,122.22 L126.3,122.80 L124.6,123.38 L122.9,123.96 L121.2,124.54 L119.5,125.13 L117.8,125.71 L116.0,126.30 L114.3,126.88 L112.6,127.47 L110.9,128.06 L109.2,128.64 L107.5,129.23 L105.7,129.82 L104.0,130.41 L102.3,131.00 L100.6,131.59 L98.9,132.18 L97.2,132.77 L95.4,133.36 L93.7,133.95 L92.0,134.54 L90.3,135.13 L88.6,135.73 L86.9,136.32 L85.1,136.91 L83.4,137.50 L81.7,138.10 L80.0,138.69 L78.3,139.29 L76.6,139.88 L74.8,140.48 L73.1,141.08 L71.4,141.67 L69.7,142.27 L68.0,142.87 L66.3,143.47 L64.5,144.07 L62.8,144.67 L61.1,145.27 L59.4,145.87 L57.7,146.47 L56.0,147.07 L54.2,147.67 L52.5,148.27 L50.8,148.88 L49.1,149.48 L47.4,150.08 L45.7,150.69 L43.9,151.29 L42.2,151.90 L40.5,152.51 L38.8,153.11 L37.1,153.72 L35.4,154.33 Z" fill="#fff"/><circle cx="54.30" cy="86.80" r="4.30" fill="#000"/><circle cx="173.50" cy="83.20" r="4.30" fill="#000"/><circle cx="273.90" cy="69.60" r="4.30" fill="#000"/><circle cx="264.30" cy="71.10" r="4.30" fill="#000"/><circle cx="261.50" cy="64.30" r="4.30" fill="#000"/><circle cx="246.20" cy="73.30" r="4.30" fill="#000"/><circle cx="69.30" cy="87.90" r="4.30" fill="#000"/><circle cx="144.30" cy="74.80" r="4.30" fill="#000"/><circle cx="158.60" cy="75.80" r="4.30" fill="#000"/><circle cx="166.30" cy="73.90" r="4.30" fill="#000"/><circle cx="169.30" cy="79.10" r="4.30" fill="#000"/><circle cx="133.20" cy="89.60" r="4.30" fill="#000"/><circle cx="244.60" cy="69.60" r="4.30" fill="#000"/><circle cx="263.70" cy="57.80" r="4.30" fill="#000"/><circle cx="279.80" cy="53.50" r="4.30" fill="#000"/><circle cx="288.40" cy="54.50" r="4.30" fill="#000"/><circle cx="290.60" cy="54.30" r="4.30" fill="#000"/><circle cx="302.40" cy="51.40" r="4.30" fill="#000"/><circle cx="310.00" cy="51.30" r="4.30" fill="#000"/><circle cx="231.80" cy="75.80" r="4.30" fill="#000"/><circle cx="62.80" cy="90.00" r="4.30" fill="#000"/><circle cx="66.10" cy="89.10" r="4.30" fill="#000"/><circle cx="90.70" cy="93.70" r="4.30" fill="#000"/><circle cx="137.00" cy="85.70" r="4.30" fill="#000"/><circle cx="188.90" cy="72.60" r="4.30" fill="#000"/><circle cx="233.30" cy="62.50" r="4.30" fill="#000"/><circle cx="222.00" cy="66.00" r="4.30" fill="#000"/><circle cx="256.80" cy="57.90" r="4.30" fill="#000"/><circle cx="296.90" cy="53.20" r="4.30" fill="#000"/><circle cx="299.50" cy="56.30" r="4.30" fill="#000"/><circle cx="279.20" cy="63.20" r="4.30" fill="#000"/><circle cx="283.50" cy="62.50" r="4.30" fill="#000"/><circle cx="270.90" cy="68.70" r="4.30" fill="#000"/></mask>
<line mask="url(#m0)" x1="36.35" y1="95.41" x2="324.50" y2="53.60" stroke="#b0dae8" stroke-opacity="0.50" stroke-width="4.40"/>
<line x1="36.35" y1="96.71" x2="324.50" y2="54.90" stroke="#111" stroke-width="2.1" stroke-dasharray="7.76 3.36"/>
</g>
<rect x="36.35" y="13.34" width="288.15" height="238.33" fill="none" stroke="#d0d0d0" stroke-width="1.1"/>
<g clip-path="url(#c1)">
<line x1="383.50" x2="672.40" y1="72.92" y2="72.92" stroke="#d4d4d4" stroke-width="1"/>
<line x1="383.50" x2="672.40" y1="132.50" y2="132.50" stroke="#d4d4d4" stroke-width="1"/>
<line x1="383.50" x2="672.40" y1="192.44" y2="192.44" stroke="#d4d4d4" stroke-width="1"/>
<line x1="547.98" x2="547.98" y1="13.34" y2="251.67" stroke="#d4d4d4" stroke-width="1"/>
<circle cx="416.60" cy="77.20" r="4.45" fill="rgb(0,28,127)" fill-opacity="0.88"/>
<circle cx="404.50" cy="88.30" r="4.45" fill="rgb(0,28,127)" fill-opacity="0.88"/>
<circle cx="420.30" cy="92.00" r="4.45" fill="rgb(0,28,127)" fill-opacity="0.88"/>
<circle cx="462.70" cy="89.60" r="4.45" fill="rgb(0,28,127)" fill-opacity="0.88"/>
<circle cx="472.90" cy="88.40" r="4.45" fill="rgb(0,28,127)" fill-opacity="0.88"/>
<circle cx="465.50" cy="96.10" r="4.45" fill="rgb(0,28,127)" fill-opacity="0.88"/>
<circle cx="527.20" cy="57.20" r="4.45" fill="rgb(0,28,127)" fill-opacity="0.88"/>
<circle cx="521.90" cy="64.20" r="4.45" fill="rgb(0,28,127)" fill-opacity="0.88"/>
<circle cx="537.70" cy="63.10" r="4.45" fill="rgb(0,28,127)" fill-opacity="0.88"/>
<circle cx="532.40" cy="71.50" r="4.45" fill="rgb(0,28,127)" fill-opacity="0.88"/>
<circle cx="510.00" cy="78.80" r="4.45" fill="rgb(0,28,127)" fill-opacity="0.88"/>
<circle cx="551.70" cy="74.20" r="4.45" fill="rgb(0,28,127)" fill-opacity="0.88"/>
<circle cx="578.40" cy="56.00" r="4.45" fill="rgb(0,28,127)" fill-opacity="0.88"/>
<circle cx="588.20" cy="60.30" r="4.45" fill="rgb(0,28,127)" fill-opacity="0.88"/>
<circle cx="607.00" cy="56.50" r="4.45" fill="rgb(0,28,127)" fill-opacity="0.88"/>
<circle cx="598.20" cy="73.90" r="4.45" fill="rgb(0,28,127)" fill-opacity="0.88"/>
<circle cx="603.00" cy="68.90" r="4.45" fill="rgb(0,28,127)" fill-opacity="0.88"/>
<circle cx="609.20" cy="66.50" r="4.45" fill="rgb(0,28,127)" fill-opacity="0.88"/>
<circle cx="610.80" cy="88.60" r="4.45" fill="rgb(0,28,127)" fill-opacity="0.88"/>
<circle cx="599.40" cy="96.00" r="4.45" fill="rgb(0,28,127)" fill-opacity="0.88"/>
<circle cx="542.40" cy="93.30" r="4.45" fill="rgb(0,28,127)" fill-opacity="0.88"/>
<circle cx="545.90" cy="99.60" r="4.45" fill="rgb(0,28,127)" fill-opacity="0.88"/>
<circle cx="651.50" cy="116.60" r="4.45" fill="rgb(0,28,127)" fill-opacity="0.88"/>
<circle cx="661.50" cy="61.80" r="4.45" fill="rgb(0,28,127)" fill-opacity="0.88"/>
<circle cx="662.50" cy="65.50" r="4.45" fill="rgb(0,28,127)" fill-opacity="0.88"/>
<circle cx="671.00" cy="41.00" r="4.45" fill="rgb(0,28,127)" fill-opacity="0.88"/>
<circle cx="553.00" cy="74.90" r="4.45" fill="rgb(0,28,127)" fill-opacity="0.88"/>
<circle cx="662.50" cy="251.67" r="4.45" fill="rgb(0,28,127)" fill-opacity="0.88"/>
<path d="M382.5,55.13 L384.2,55.42 L385.9,55.71 L387.7,56.01 L389.4,56.30 L391.1,56.60 L392.8,56.89 L394.5,57.19 L396.3,57.49 L398.0,57.79 L399.7,58.09 L401.4,58.40 L403.2,58.70 L404.9,59.01 L406.6,59.31 L408.3,59.62 L410.0,59.93 L411.8,60.24 L413.5,60.55 L415.2,60.86 L416.9,61.17 L418.6,61.49 L420.4,61.80 L422.1,62.11 L423.8,62.43 L425.5,62.75 L427.3,63.06 L429.0,63.38 L430.7,63.70 L432.4,64.02 L434.1,64.34 L435.9,64.66 L437.6,64.98 L439.3,65.31 L441.0,65.63 L442.7,65.95 L444.5,66.28 L446.2,66.63 L447.9,66.99 L449.6,67.36 L451.4,67.72 L453.1,68.08 L454.8,68.42 L456.5,68.74 L458.2,69.04 L460.0,69.29 L461.7,69.53 L463.4,69.76 L465.1,69.99 L466.8,70.21 L468.6,70.42 L470.3,70.63 L472.0,70.83 L473.7,71.02 L475.5,71.20 L477.2,71.37 L478.9,71.54 L480.6,71.69 L482.3,71.83 L484.1,71.96 L485.8,72.07 L487.5,72.17 L489.2,72.26 L490.9,72.36 L492.7,72.45 L494.4,72.53 L496.1,72.62 L497.8,72.70 L499.5,72.77 L501.3,72.83 L503.0,72.89 L504.7,72.93 L506.4,72.97 L508.2,72.99 L509.9,73.00 L511.6,73.00 L513.3,72.99 L515.0,72.99 L516.8,72.98 L518.5,72.97 L520.2,72.96 L521.9,72.95 L523.6,72.93 L525.4,72.92 L527.1,72.90 L528.8,72.89 L530.5,72.87 L532.3,72.86 L534.0,72.85 L535.7,72.83 L537.4,72.82 L539.1,72.81 L540.9,72.81 L542.6,72.80 L544.3,72.80 L546.0,72.80 L547.7,72.83 L549.5,72.62 L551.2,72.37 L552.9,72.12 L554.6,71.87 L556.4,71.62 L558.1,71.37 L559.8,71.13 L561.5,70.88 L563.2,70.63 L565.0,70.38 L566.7,70.13 L568.4,69.88 L570.1,69.63 L571.8,69.38 L573.6,69.14 L575.3,68.89 L577.0,68.64 L578.7,68.39 L580.4,68.14 L582.2,67.89 L583.9,67.64 L585.6,67.39 L587.3,67.15 L589.1,66.90 L590.8,66.65 L592.5,66.40 L594.2,66.15 L595.9,65.90 L597.7,65.65 L599.4,65.40 L601.1,65.16 L602.8,64.91 L604.5,64.66 L606.3,64.41 L608.0,64.16 L609.7,63.91 L611.4,63.66 L613.2,63.41 L614.9,63.17 L616.6,62.92 L618.3,62.67 L620.0,62.42 L621.8,62.17 L623.5,61.92 L625.2,61.67 L626.9,61.43 L628.6,61.18 L630.4,60.93 L632.1,60.68 L633.8,60.43 L635.5,60.18 L637.3,59.93 L639.0,59.68 L640.7,59.44 L642.4,59.19 L644.1,58.94 L645.9,58.69 L647.6,58.44 L649.3,58.19 L651.0,57.94 L652.7,57.69 L654.5,57.45 L656.2,57.20 L657.9,56.95 L659.6,56.70 L661.4,56.45 L663.1,56.20 L664.8,55.95 L666.5,55.70 L668.2,55.46 L670.0,55.21 L671.7,54.96 L673.4,54.71 L673.4,115.97 L671.7,115.68 L670.0,115.39 L668.2,115.09 L666.5,114.79 L664.8,114.49 L663.1,114.18 L661.4,113.88 L659.6,113.56 L657.9,113.25 L656.2,112.93 L654.5,112.62 L652.7,112.29 L651.0,111.97 L649.3,111.64 L647.6,111.31 L645.9,110.98 L644.1,110.65 L642.4,110.31 L640.7,109.97 L639.0,109.63 L637.3,109.29 L635.5,108.94 L633.8,108.60 L632.1,108.25 L630.4,107.90 L628.6,107.54 L626.9,107.19 L625.2,106.83 L623.5,106.46 L621.8,106.07 L620.0,105.67 L618.3,105.26 L616.6,104.85 L614.9,104.43 L613.2,104.02 L611.4,103.61 L609.7,103.20 L608.0,102.81 L606.3,102.43 L604.5,102.06 L602.8,101.72 L601.1,101.39 L599.4,101.10 L597.7,100.82 L595.9,100.56 L594.2,100.32 L592.5,100.09 L590.8,99.87 L589.1,99.65 L587.3,99.44 L585.6,99.23 L583.9,99.02 L582.2,98.81 L580.4,98.59 L578.7,98.36 L577.0,98.12 L575.3,97.87 L573.6,97.59 L571.8,97.30 L570.1,96.98 L568.4,96.64 L566.7,96.28 L565.0,95.90 L563.2,95.50 L561.5,95.10 L559.8,94.69 L558.1,94.28 L556.4,93.87 L554.6,93.46 L552.9,93.06 L551.2,92.67 L549.5,92.30 L547.7,91.94 L546.0,91.60 L544.3,91.29 L542.6,91.00 L540.9,90.71 L539.1,90.44 L537.4,90.18 L535.7,89.93 L534.0,89.69 L532.3,89.47 L530.5,89.26 L528.8,89.07 L527.1,88.89 L525.4,88.71 L523.6,88.54 L521.9,88.38 L520.2,88.22 L518.5,88.07 L516.8,87.93 L515.0,87.78 L513.3,87.64 L511.6,87.51 L509.9,87.37 L508.2,87.24 L506.4,87.10 L504.7,86.97 L503.0,86.84 L501.3,86.70 L499.5,86.56 L497.8,86.43 L496.1,86.31 L494.4,86.20 L492.7,86.09 L490.9,85.98 L489.2,85.86 L487.5,85.75 L485.8,85.62 L484.1,85.48 L482.3,85.33 L480.6,85.16 L478.9,84.96 L477.2,84.66 L475.5,84.32 L473.7,83.98 L472.0,83.81 L470.3,84.06 L468.6,84.31 L466.8,84.56 L465.1,84.81 L463.4,85.05 L461.7,85.30 L460.0,85.55 L458.2,85.80 L456.5,86.05 L454.8,86.30 L453.1,86.55 L451.4,86.80 L449.6,87.04 L447.9,87.29 L446.2,87.54 L444.5,87.79 L442.7,88.04 L441.0,88.29 L439.3,88.54 L437.6,88.79 L435.9,89.03 L434.1,89.28 L432.4,89.53 L430.7,89.78 L429.0,90.03 L427.3,90.28 L425.5,90.53 L423.8,90.78 L422.1,91.02 L420.4,91.27 L418.6,91.52 L416.9,91.77 L415.2,92.02 L413.5,92.27 L411.8,92.52 L410.0,92.76 L408.3,93.01 L406.6,93.26 L404.9,93.51 L403.2,93.76 L401.4,94.01 L399.7,94.26 L398.0,94.51 L396.3,94.75 L394.5,95.00 L392.8,95.25 L391.1,95.50 L389.4,95.75 L387.7,96.00 L385.9,96.25 L384.2,96.50 L382.5,96.74 Z" fill="rgb(0,28,127)" fill-opacity="0.250"/>
<circle cx="490.70" cy="68.00" r="4.45" fill="rgb(177,64,13)" fill-opacity="0.88"/>
<circle cx="430.50" cy="82.70" r="4.45" fill="rgb(177,64,13)" fill-opacity="0.88"/>
<circle cx="450.30" cy="80.30" r="4.45" fill="rgb(177,64,13)" fill-opacity="0.88"/>
<circle cx="402.40" cy="88.50" r="4.45" fill="rgb(177,64,13)" fill-opacity="0.88"/>
<circle cx="442.20" cy="86.80" r="4.45" fill="rgb(177,64,13)" fill-opacity="0.88"/>
<circle cx="461.50" cy="85.10" r="4.45" fill="rgb(177,64,13)" fill-opacity="0.88"/>
<circle cx="458.80" cy="95.30" r="4.45" fill="rgb(177,64,13)" fill-opacity="0.88"/>
<circle cx="424.80" cy="105.50" r="4.45" fill="rgb(177,64,13)" fill-opacity="0.88"/>
<circle cx="535.40" cy="52.80" r="4.45" fill="rgb(177,64,13)" fill-opacity="0.88"/>
<circle cx="545.00" cy="78.80" r="4.45" fill="rgb(177,64,13)" fill-opacity="0.88"/>
<circle cx="565.70" cy="71.00" r="4.45" fill="rgb(177,64,13)" fill-opacity="0.88"/>
<circle cx="567.80" cy="86.30" r="4.45" fill="rgb(177,64,13)" fill-opacity="0.88"/>
<circle cx="581.80" cy="58.00" r="4.45" fill="rgb(177,64,13)" fill-opacity="0.88"/>
<circle cx="590.20" cy="48.50" r="4.45" fill="rgb(177,64,13)" fill-opacity="0.88"/>
<circle cx="598.70" cy="44.80" r="4.45" fill="rgb(177,64,13)" fill-opacity="0.88"/>
<circle cx="612.00" cy="76.40" r="4.45" fill="rgb(177,64,13)" fill-opacity="0.88"/>
<circle cx="621.20" cy="46.10" r="4.45" fill="rgb(177,64,13)" fill-opacity="0.88"/>
<circle cx="628.90" cy="39.70" r="4.45" fill="rgb(177,64,13)" fill-opacity="0.88"/>
<circle cx="623.40" cy="54.70" r="4.45" fill="rgb(177,64,13)" fill-opacity="0.88"/>
<circle cx="634.00" cy="55.00" r="4.45" fill="rgb(177,64,13)" fill-opacity="0.88"/>
<circle cx="665.20" cy="60.00" r="4.45" fill="rgb(177,64,13)" fill-opacity="0.88"/>
<circle cx="668.50" cy="69.90" r="4.45" fill="rgb(177,64,13)" fill-opacity="0.88"/>
<circle cx="649.20" cy="71.50" r="4.45" fill="rgb(177,64,13)" fill-opacity="0.88"/>
<circle cx="648.00" cy="78.40" r="4.45" fill="rgb(177,64,13)" fill-opacity="0.88"/>
<circle cx="504.60" cy="90.00" r="4.45" fill="rgb(177,64,13)" fill-opacity="0.88"/>
<circle cx="521.50" cy="112.00" r="4.45" fill="rgb(177,64,13)" fill-opacity="0.88"/>
<circle cx="547.80" cy="120.00" r="4.45" fill="rgb(177,64,13)" fill-opacity="0.88"/>
<circle cx="548.90" cy="160.60" r="4.45" fill="rgb(177,64,13)" fill-opacity="0.88"/>
<circle cx="613.20" cy="251.67" r="4.45" fill="rgb(177,64,13)" fill-opacity="0.88"/>
<circle cx="669.30" cy="251.67" r="4.45" fill="rgb(177,64,13)" fill-opacity="0.88"/>
<path d="M382.5,56.14 L384.2,56.59 L385.9,57.03 L387.7,57.47 L389.4,57.91 L391.1,58.34 L392.8,58.77 L394.5,59.20 L396.3,59.62 L398.0,60.04 L399.7,60.46 L401.4,60.87 L403.2,61.28 L404.9,61.69 L406.6,62.09 L408.3,62.49 L410.0,62.89 L411.8,63.29 L413.5,63.68 L415.2,64.07 L416.9,64.45 L418.6,64.84 L420.4,65.22 L422.1,65.60 L423.8,65.97 L425.5,66.35 L427.3,66.72 L429.0,67.08 L430.7,67.45 L432.4,67.81 L434.1,68.18 L435.9,68.53 L437.6,68.89 L439.3,69.25 L441.0,69.60 L442.7,69.95 L444.5,70.30 L446.2,70.66 L447.9,71.02 L449.6,71.37 L451.4,71.72 L453.1,72.06 L454.8,72.38 L456.5,72.68 L458.2,72.95 L460.0,73.19 L461.7,73.41 L463.4,73.60 L465.1,73.78 L466.8,73.94 L468.6,74.09 L470.3,74.23 L472.0,74.37 L473.7,74.50 L475.5,74.64 L477.2,74.78 L478.9,74.92 L480.6,75.07 L482.3,75.24 L484.1,75.42 L485.8,75.61 L487.5,75.83 L489.2,76.09 L490.9,76.40 L492.7,76.76 L494.4,77.16 L496.1,77.58 L497.8,78.01 L499.5,78.43 L501.3,78.83 L503.0,79.20 L504.7,79.08 L506.4,78.84 L508.2,78.59 L509.9,78.34 L511.6,78.09 L513.3,77.84 L515.0,77.59 L516.8,77.34 L518.5,77.09 L520.2,76.85 L521.9,76.60 L523.6,76.35 L525.4,76.10 L527.1,75.85 L528.8,75.60 L530.5,75.35 L532.3,75.11 L534.0,74.86 L535.7,74.61 L537.4,74.36 L539.1,74.11 L540.9,73.86 L542.6,73.61 L544.3,73.36 L546.0,73.12 L547.7,72.87 L549.5,72.62 L551.2,72.37 L552.9,72.12 L554.6,71.87 L556.4,71.62 L558.1,71.37 L559.8,71.13 L561.5,70.88 L563.2,70.63 L565.0,70.38 L566.7,70.13 L568.4,69.88 L570.1,69.63 L571.8,69.38 L573.6,69.14 L575.3,68.89 L577.0,68.64 L578.7,68.39 L580.4,68.14 L582.2,67.89 L583.9,67.64 L585.6,67.39 L587.3,67.15 L589.1,66.90 L590.8,66.65 L592.5,66.40 L594.2,66.15 L595.9,65.90 L597.7,65.65 L599.4,65.40 L601.1,65.16 L602.8,64.91 L604.5,64.66 L606.3,64.41 L608.0,64.16 L609.7,63.91 L611.4,63.66 L613.2,63.41 L614.9,63.17 L616.6,62.92 L618.3,62.67 L620.0,62.42 L621.8,62.17 L623.5,61.92 L625.2,61.67 L626.9,61.43 L628.6,61.18 L630.4,60.93 L632.1,60.68 L633.8,60.43 L635.5,60.18 L637.3,59.93 L639.0,59.68 L640.7,59.44 L642.4,59.19 L644.1,58.94 L645.9,58.69 L647.6,58.44 L649.3,58.19 L651.0,57.94 L652.7,57.69 L654.5,57.45 L656.2,57.20 L657.9,56.95 L659.6,56.70 L661.4,56.45 L663.1,56.20 L664.8,55.95 L666.5,55.70 L668.2,55.46 L670.0,55.21 L671.7,54.96 L673.4,54.71 L673.4,135.25 L671.7,134.82 L670.0,134.40 L668.2,133.98 L666.5,133.56 L664.8,133.13 L663.1,132.71 L661.4,132.29 L659.6,131.87 L657.9,131.45 L656.2,131.02 L654.5,130.60 L652.7,130.18 L651.0,129.76 L649.3,129.34 L647.6,128.91 L645.9,128.49 L644.1,128.07 L642.4,127.65 L640.7,127.23 L639.0,126.81 L637.3,126.39 L635.5,125.97 L633.8,125.54 L632.1,125.12 L630.4,124.70 L628.6,124.28 L626.9,123.86 L625.2,123.44 L623.5,123.02 L621.8,122.60 L620.0,122.17 L618.3,121.74 L616.6,121.31 L614.9,120.88 L613.2,120.44 L611.4,120.00 L609.7,119.56 L608.0,119.12 L606.3,118.68 L604.5,118.24 L602.8,117.80 L601.1,117.36 L599.4,116.92 L597.7,116.49 L595.9,116.05 L594.2,115.62 L592.5,115.19 L590.8,114.77 L589.1,114.35 L587.3,113.93 L585.6,113.52 L583.9,113.12 L582.2,112.72 L580.4,112.32 L578.7,111.94 L577.0,111.56 L575.3,111.18 L573.6,110.82 L571.8,110.46 L570.1,110.12 L568.4,109.80 L566.7,109.48 L565.0,109.16 L563.2,108.84 L561.5,108.53 L559.8,108.21 L558.1,107.90 L556.4,107.59 L554.6,107.29 L552.9,106.98 L551.2,106.67 L549.5,106.36 L547.7,106.05 L546.0,105.73 L544.3,105.40 L542.6,105.06 L540.9,104.69 L539.1,104.31 L537.4,103.92 L535.7,103.51 L534.0,103.11 L532.3,102.70 L530.5,102.30 L528.8,101.92 L527.1,101.55 L525.4,101.20 L523.6,100.87 L521.9,100.58 L520.2,100.33 L518.5,100.10 L516.8,99.87 L515.0,99.64 L513.3,99.43 L511.6,99.22 L509.9,99.03 L508.2,98.85 L506.4,98.69 L504.7,98.55 L503.0,98.44 L501.3,98.35 L499.5,98.29 L497.8,98.23 L496.1,98.18 L494.4,98.14 L492.7,98.09 L490.9,98.05 L489.2,98.02 L487.5,97.99 L485.8,97.96 L484.1,97.94 L482.3,97.92 L480.6,97.91 L478.9,97.90 L477.2,97.90 L475.5,97.91 L473.7,97.93 L472.0,97.96 L470.3,98.00 L468.6,98.04 L466.8,98.09 L465.1,98.15 L463.4,98.21 L461.7,98.28 L460.0,98.35 L458.2,98.43 L456.5,98.51 L454.8,98.60 L453.1,98.68 L451.4,98.77 L449.6,98.86 L447.9,98.95 L446.2,99.04 L444.5,99.13 L442.7,99.21 L441.0,99.30 L439.3,99.40 L437.6,99.50 L435.9,99.61 L434.1,99.73 L432.4,99.85 L430.7,99.98 L429.0,100.13 L427.3,100.28 L425.5,100.44 L423.8,100.61 L422.1,100.79 L420.4,100.98 L418.6,101.19 L416.9,101.40 L415.2,101.62 L413.5,101.86 L411.8,102.10 L410.0,102.35 L408.3,102.62 L406.6,102.89 L404.9,103.17 L403.2,103.47 L401.4,103.77 L399.7,104.08 L398.0,104.41 L396.3,104.74 L394.5,105.08 L392.8,105.43 L391.1,105.79 L389.4,106.16 L387.7,106.54 L385.9,106.93 L384.2,107.33 L382.5,107.74 Z" fill="rgb(177,64,13)" fill-opacity="0.250"/>
<circle cx="452.60" cy="57.20" r="4.45" fill="rgb(18,113,28)" fill-opacity="0.88"/>
<circle cx="390.90" cy="86.30" r="4.45" fill="rgb(18,113,28)" fill-opacity="0.88"/>
<circle cx="434.70" cy="88.80" r="4.45" fill="rgb(18,113,28)" fill-opacity="0.88"/>
<circle cx="452.90" cy="88.80" r="4.45" fill="rgb(18,113,28)" fill-opacity="0.88"/>
<circle cx="463.20" cy="100.80" r="4.45" fill="rgb(18,113,28)" fill-opacity="0.88"/>
<circle cx="491.60" cy="84.80" r="4.45" fill="rgb(18,113,28)" fill-opacity="0.88"/>
<circle cx="498.60" cy="85.40" r="4.45" fill="rgb(18,113,28)" fill-opacity="0.88"/>
<circle cx="516.70" cy="80.40" r="4.45" fill="rgb(18,113,28)" fill-opacity="0.88"/>
<circle cx="597.10" cy="46.40" r="4.45" fill="rgb(18,113,28)" fill-opacity="0.88"/>
<circle cx="597.20" cy="63.30" r="4.45" fill="rgb(18,113,28)" fill-opacity="0.88"/>
<circle cx="616.00" cy="52.60" r="4.45" fill="rgb(18,113,28)" fill-opacity="0.88"/>
<circle cx="618.10" cy="44.30" r="4.45" fill="rgb(18,113,28)" fill-opacity="0.88"/>
<circle cx="626.10" cy="40.50" r="4.45" fill="rgb(18,113,28)" fill-opacity="0.88"/>
<circle cx="639.20" cy="43.00" r="4.45" fill="rgb(18,113,28)" fill-opacity="0.88"/>
<circle cx="642.90" cy="56.50" r="4.45" fill="rgb(18,113,28)" fill-opacity="0.88"/>
<circle cx="654.10" cy="49.90" r="4.45" fill="rgb(18,113,28)" fill-opacity="0.88"/>
<circle cx="659.20" cy="54.40" r="4.45" fill="rgb(18,113,28)" fill-opacity="0.88"/>
<circle cx="668.30" cy="45.00" r="4.45" fill="rgb(18,113,28)" fill-opacity="0.88"/>
<circle cx="669.00" cy="48.80" r="4.45" fill="rgb(18,113,28)" fill-opacity="0.88"/>
<circle cx="670.60" cy="59.10" r="4.45" fill="rgb(18,113,28)" fill-opacity="0.88"/>
<circle cx="615.00" cy="69.80" r="4.45" fill="rgb(18,113,28)" fill-opacity="0.88"/>
<circle cx="619.60" cy="67.00" r="4.45" fill="rgb(18,113,28)" fill-opacity="0.88"/>
<circle cx="625.50" cy="72.50" r="4.45" fill="rgb(18,113,28)" fill-opacity="0.88"/>
<circle cx="626.20" cy="67.90" r="4.45" fill="rgb(18,113,28)" fill-opacity="0.88"/>
<circle cx="663.70" cy="82.80" r="4.45" fill="rgb(18,113,28)" fill-opacity="0.88"/>
<circle cx="507.90" cy="93.80" r="4.45" fill="rgb(18,113,28)" fill-opacity="0.88"/>
<circle cx="539.90" cy="102.50" r="4.45" fill="rgb(18,113,28)" fill-opacity="0.88"/>
<circle cx="538.80" cy="251.67" r="4.45" fill="rgb(18,113,28)" fill-opacity="0.88"/>
<circle cx="580.80" cy="251.67" r="4.45" fill="rgb(18,113,28)" fill-opacity="0.88"/>
<circle cx="636.90" cy="251.67" r="4.45" fill="rgb(18,113,28)" fill-opacity="0.88"/>
<path d="M382.5,86.08 L384.2,85.95 L385.9,85.82 L387.7,85.70 L389.4,85.57 L391.1,85.46 L392.8,85.34 L394.5,85.23 L396.3,85.12 L398.0,85.01 L399.7,84.91 L401.4,84.80 L403.2,84.70 L404.9,84.61 L406.6,84.51 L408.3,84.42 L410.0,84.34 L411.8,84.25 L413.5,84.17 L415.2,84.09 L416.9,84.01 L418.6,83.94 L420.4,83.87 L422.1,83.80 L423.8,83.73 L425.5,83.67 L427.3,83.61 L429.0,83.55 L430.7,83.50 L432.4,83.45 L434.1,83.40 L435.9,83.35 L437.6,83.31 L439.3,83.27 L441.0,83.23 L442.7,83.20 L444.5,83.16 L446.2,83.14 L447.9,83.11 L449.6,83.09 L451.4,83.07 L453.1,83.05 L454.8,83.03 L456.5,83.02 L458.2,83.01 L460.0,83.00 L461.7,83.00 L463.4,83.00 L465.1,83.00 L466.8,83.01 L468.6,83.03 L470.3,83.04 L472.0,83.06 L473.7,83.09 L475.5,83.12 L477.2,83.06 L478.9,82.82 L480.6,82.57 L482.3,82.32 L484.1,82.07 L485.8,81.82 L487.5,81.57 L489.2,81.32 L490.9,81.07 L492.7,80.83 L494.4,80.58 L496.1,80.33 L497.8,80.08 L499.5,79.83 L501.3,79.58 L503.0,79.33 L504.7,79.08 L506.4,78.84 L508.2,78.59 L509.9,78.34 L511.6,78.09 L513.3,77.84 L515.0,77.59 L516.8,77.34 L518.5,77.09 L520.2,76.85 L521.9,76.60 L523.6,76.35 L525.4,76.10 L527.1,75.85 L528.8,75.60 L530.5,75.35 L532.3,75.11 L534.0,74.86 L535.7,74.61 L537.4,74.36 L539.1,74.11 L540.9,73.86 L542.6,73.61 L544.3,73.36 L546.0,73.12 L547.7,72.87 L549.5,72.62 L551.2,72.37 L552.9,72.12 L554.6,71.87 L556.4,71.62 L558.1,71.37 L559.8,71.13 L561.5,70.88 L563.2,70.63 L565.0,70.38 L566.7,70.13 L568.4,69.88 L570.1,69.63 L571.8,69.38 L573.6,69.14 L575.3,68.89 L577.0,68.64 L578.7,68.39 L580.4,68.14 L582.2,67.89 L583.9,67.64 L585.6,67.39 L587.3,67.15 L589.1,66.90 L590.8,66.65 L592.5,66.40 L594.2,66.15 L595.9,65.90 L597.7,65.65 L599.4,65.40 L601.1,65.16 L602.8,64.91 L604.5,64.66 L606.3,64.41 L608.0,64.16 L609.7,63.91 L611.4,63.66 L613.2,63.41 L614.9,63.17 L616.6,62.92 L618.3,62.67 L620.0,62.42 L621.8,62.17 L623.5,61.92 L625.2,61.67 L626.9,61.43 L628.6,61.18 L630.4,60.93 L632.1,60.68 L633.8,60.43 L635.5,60.18 L637.3,59.93 L639.0,59.68 L640.7,59.44 L642.4,59.19 L644.1,58.94 L645.9,58.69 L647.6,58.44 L649.3,58.19 L651.0,57.94 L652.7,57.69 L654.5,57.45 L656.2,57.20 L657.9,56.95 L659.6,56.70 L661.4,56.45 L663.1,56.20 L664.8,55.95 L666.5,55.70 L668.2,55.46 L670.0,55.21 L671.7,54.96 L673.4,54.71 L673.4,107.00 L671.7,107.00 L670.0,107.00 L668.2,107.00 L666.5,107.00 L664.8,107.00 L663.1,107.00 L661.4,107.00 L659.6,107.00 L657.9,107.00 L656.2,107.00 L654.5,107.00 L652.7,107.00 L651.0,107.00 L649.3,107.00 L647.6,107.00 L645.9,107.00 L644.1,107.00 L642.4,107.00 L640.7,107.00 L639.0,107.00 L637.3,107.00 L635.5,107.00 L633.8,107.00 L632.1,107.00 L630.4,107.00 L628.6,107.00 L626.9,107.00 L625.2,107.01 L623.5,107.03 L621.8,107.08 L620.0,107.14 L618.3,107.22 L616.6,107.32 L614.9,107.42 L613.2,107.53 L611.4,107.65 L609.7,107.78 L608.0,107.91 L606.3,108.04 L604.5,108.17 L602.8,108.30 L601.1,108.42 L599.4,108.54 L597.7,108.67 L595.9,108.82 L594.2,108.97 L592.5,109.12 L590.8,109.29 L589.1,109.46 L587.3,109.62 L585.6,109.79 L583.9,109.95 L582.2,110.11 L580.4,110.26 L578.7,110.40 L577.0,110.53 L575.3,110.65 L573.6,110.74 L571.8,110.83 L570.1,110.92 L568.4,111.00 L566.7,111.09 L565.0,111.19 L563.2,111.30 L561.5,111.44 L559.8,111.59 L558.1,111.75 L556.4,111.93 L554.6,112.12 L552.9,112.33 L551.2,112.54 L549.5,112.77 L547.7,113.02 L546.0,113.27 L544.3,113.53 L542.6,113.81 L540.9,114.09 L539.1,114.42 L537.4,114.78 L535.7,115.18 L534.0,115.60 L532.3,116.04 L530.5,116.50 L528.8,116.96 L527.1,117.42 L525.4,117.89 L523.6,118.38 L521.9,118.89 L520.2,119.42 L518.5,119.95 L516.8,120.49 L515.0,121.03 L513.3,121.56 L511.6,122.08 L509.9,122.60 L508.2,123.11 L506.4,123.61 L504.7,124.12 L503.0,124.64 L501.3,125.16 L499.5,125.69 L497.8,126.23 L496.1,126.80 L494.4,127.39 L492.7,128.01 L490.9,128.64 L489.2,129.27 L487.5,129.89 L485.8,130.49 L484.1,131.07 L482.3,131.60 L480.6,132.10 L478.9,132.58 L477.2,133.04 L475.5,133.50 L473.7,133.95 L472.0,134.41 L470.3,134.89 L468.6,135.37 L466.8,135.85 L465.1,136.33 L463.4,136.82 L461.7,137.30 L460.0,137.79 L458.2,138.28 L456.5,138.77 L454.8,139.26 L453.1,139.75 L451.4,140.25 L449.6,140.75 L447.9,141.26 L446.2,141.76 L444.5,142.28 L442.7,142.79 L441.0,143.31 L439.3,143.84 L437.6,144.38 L435.9,144.93 L434.1,145.48 L432.4,146.03 L430.7,146.59 L429.0,147.16 L427.3,147.72 L425.5,148.29 L423.8,148.85 L422.1,149.42 L420.4,149.98 L418.6,150.54 L416.9,151.10 L415.2,151.65 L413.5,152.20 L411.8,152.74 L410.0,153.27 L408.3,153.81 L406.6,154.34 L404.9,154.87 L403.2,155.40 L401.4,155.93 L399.7,156.45 L398.0,156.97 L396.3,157.49 L394.5,158.01 L392.8,158.53 L391.1,159.05 L389.4,159.56 L387.7,160.07 L385.9,160.58 L384.2,161.09 L382.5,161.59 Z" fill="rgb(18,113,28)" fill-opacity="0.250"/>
<mask id="m1" maskUnits="userSpaceOnUse" x="0" y="0" width="685" height="281"><rect width="685" height="281" fill="#000"/><path d="M382.5,55.13 L384.2,55.42 L385.9,55.71 L387.7,56.01 L389.4,56.30 L391.1,56.60 L392.8,56.89 L394.5,57.19 L396.3,57.49 L398.0,57.79 L399.7,58.09 L401.4,58.40 L403.2,58.70 L404.9,59.01 L406.6,59.31 L408.3,59.62 L410.0,59.93 L411.8,60.24 L413.5,60.55 L415.2,60.86 L416.9,61.17 L418.6,61.49 L420.4,61.80 L422.1,62.11 L423.8,62.43 L425.5,62.75 L427.3,63.06 L429.0,63.38 L430.7,63.70 L432.4,64.02 L434.1,64.34 L435.9,64.66 L437.6,64.98 L439.3,65.31 L441.0,65.63 L442.7,65.95 L444.5,66.28 L446.2,66.63 L447.9,66.99 L449.6,67.36 L451.4,67.72 L453.1,68.08 L454.8,68.42 L456.5,68.74 L458.2,69.04 L460.0,69.29 L461.7,69.53 L463.4,69.76 L465.1,69.99 L466.8,70.21 L468.6,70.42 L470.3,70.63 L472.0,70.83 L473.7,71.02 L475.5,71.20 L477.2,71.37 L478.9,71.54 L480.6,71.69 L482.3,71.83 L484.1,71.96 L485.8,72.07 L487.5,72.17 L489.2,72.26 L490.9,72.36 L492.7,72.45 L494.4,72.53 L496.1,72.62 L497.8,72.70 L499.5,72.77 L501.3,72.83 L503.0,72.89 L504.7,72.93 L506.4,72.97 L508.2,72.99 L509.9,73.00 L511.6,73.00 L513.3,72.99 L515.0,72.99 L516.8,72.98 L518.5,72.97 L520.2,72.96 L521.9,72.95 L523.6,72.93 L525.4,72.92 L527.1,72.90 L528.8,72.89 L530.5,72.87 L532.3,72.86 L534.0,72.85 L535.7,72.83 L537.4,72.82 L539.1,72.81 L540.9,72.81 L542.6,72.80 L544.3,72.80 L546.0,72.80 L547.7,72.83 L549.5,72.62 L551.2,72.37 L552.9,72.12 L554.6,71.87 L556.4,71.62 L558.1,71.37 L559.8,71.13 L561.5,70.88 L563.2,70.63 L565.0,70.38 L566.7,70.13 L568.4,69.88 L570.1,69.63 L571.8,69.38 L573.6,69.14 L575.3,68.89 L577.0,68.64 L578.7,68.39 L580.4,68.14 L582.2,67.89 L583.9,67.64 L585.6,67.39 L587.3,67.15 L589.1,66.90 L590.8,66.65 L592.5,66.40 L594.2,66.15 L595.9,65.90 L597.7,65.65 L599.4,65.40 L601.1,65.16 L602.8,64.91 L604.5,64.66 L606.3,64.41 L608.0,64.16 L609.7,63.91 L611.4,63.66 L613.2,63.41 L614.9,63.17 L616.6,62.92 L618.3,62.67 L620.0,62.42 L621.8,62.17 L623.5,61.92 L625.2,61.67 L626.9,61.43 L628.6,61.18 L630.4,60.93 L632.1,60.68 L633.8,60.43 L635.5,60.18 L637.3,59.93 L639.0,59.68 L640.7,59.44 L642.4,59.19 L644.1,58.94 L645.9,58.69 L647.6,58.44 L649.3,58.19 L651.0,57.94 L652.7,57.69 L654.5,57.45 L656.2,57.20 L657.9,56.95 L659.6,56.70 L661.4,56.45 L663.1,56.20 L664.8,55.95 L666.5,55.70 L668.2,55.46 L670.0,55.21 L671.7,54.96 L673.4,54.71 L673.4,115.97 L671.7,115.68 L670.0,115.39 L668.2,115.09 L666.5,114.79 L664.8,114.49 L663.1,114.18 L661.4,113.88 L659.6,113.56 L657.9,113.25 L656.2,112.93 L654.5,112.62 L652.7,112.29 L651.0,111.97 L649.3,111.64 L647.6,111.31 L645.9,110.98 L644.1,110.65 L642.4,110.31 L640.7,109.97 L639.0,109.63 L637.3,109.29 L635.5,108.94 L633.8,108.60 L632.1,108.25 L630.4,107.90 L628.6,107.54 L626.9,107.19 L625.2,106.83 L623.5,106.46 L621.8,106.07 L620.0,105.67 L618.3,105.26 L616.6,104.85 L614.9,104.43 L613.2,104.02 L611.4,103.61 L609.7,103.20 L608.0,102.81 L606.3,102.43 L604.5,102.06 L602.8,101.72 L601.1,101.39 L599.4,101.10 L597.7,100.82 L595.9,100.56 L594.2,100.32 L592.5,100.09 L590.8,99.87 L589.1,99.65 L587.3,99.44 L585.6,99.23 L583.9,99.02 L582.2,98.81 L580.4,98.59 L578.7,98.36 L577.0,98.12 L575.3,97.87 L573.6,97.59 L571.8,97.30 L570.1,96.98 L568.4,96.64 L566.7,96.28 L565.0,95.90 L563.2,95.50 L561.5,95.10 L559.8,94.69 L558.1,94.28 L556.4,93.87 L554.6,93.46 L552.9,93.06 L551.2,92.67 L549.5,92.30 L547.7,91.94 L546.0,91.60 L544.3,91.29 L542.6,91.00 L540.9,90.71 L539.1,90.44 L537.4,90.18 L535.7,89.93 L534.0,89.69 L532.3,89.47 L530.5,89.26 L528.8,89.07 L527.1,88.89 L525.4,88.71 L523.6,88.54 L521.9,88.38 L520.2,88.22 L518.5,88.07 L516.8,87.93 L515.0,87.78 L513.3,87.64 L511.6,87.51 L509.9,87.37 L508.2,87.24 L506.4,87.10 L504.7,86.97 L503.0,86.84 L501.3,86.70 L499.5,86.56 L497.8,86.43 L496.1,86.31 L494.4,86.20 L492.7,86.09 L490.9,85.98 L489.2,85.86 L487.5,85.75 L485.8,85.62 L484.1,85.48 L482.3,85.33 L480.6,85.16 L478.9,84.96 L477.2,84.66 L475.5,84.32 L473.7,83.98 L472.0,83.81 L470.3,84.06 L468.6,84.31 L466.8,84.56 L465.1,84.81 L463.4,85.05 L461.7,85.30 L460.0,85.55 L458.2,85.80 L456.5,86.05 L454.8,86.30 L453.1,86.55 L451.4,86.80 L449.6,87.04 L447.9,87.29 L446.2,87.54 L444.5,87.79 L442.7,88.04 L441.0,88.29 L439.3,88.54 L437.6,88.79 L435.9,89.03 L434.1,89.28 L432.4,89.53 L430.7,89.78 L429.0,90.03 L427.3,90.28 L425.5,90.53 L423.8,90.78 L422.1,91.02 L420.4,91.27 L418.6,91.52 L416.9,91.77 L415.2,92.02 L413.5,92.27 L411.8,92.52 L410.0,92.76 L408.3,93.01 L406.6,93.26 L404.9,93.51 L403.2,93.76 L401.4,94.01 L399.7,94.26 L398.0,94.51 L396.3,94.75 L394.5,95.00 L392.8,95.25 L391.1,95.50 L389.4,95.75 L387.7,96.00 L385.9,96.25 L384.2,96.50 L382.5,96.74 Z" fill="#fff"/><path d="M382.5,56.14 L384.2,56.59 L385.9,57.03 L387.7,57.47 L389.4,57.91 L391.1,58.34 L392.8,58.77 L394.5,59.20 L396.3,59.62 L398.0,60.04 L399.7,60.46 L401.4,60.87 L403.2,61.28 L404.9,61.69 L406.6,62.09 L408.3,62.49 L410.0,62.89 L411.8,63.29 L413.5,63.68 L415.2,64.07 L416.9,64.45 L418.6,64.84 L420.4,65.22 L422.1,65.60 L423.8,65.97 L425.5,66.35 L427.3,66.72 L429.0,67.08 L430.7,67.45 L432.4,67.81 L434.1,68.18 L435.9,68.53 L437.6,68.89 L439.3,69.25 L441.0,69.60 L442.7,69.95 L444.5,70.30 L446.2,70.66 L447.9,71.02 L449.6,71.37 L451.4,71.72 L453.1,72.06 L454.8,72.38 L456.5,72.68 L458.2,72.95 L460.0,73.19 L461.7,73.41 L463.4,73.60 L465.1,73.78 L466.8,73.94 L468.6,74.09 L470.3,74.23 L472.0,74.37 L473.7,74.50 L475.5,74.64 L477.2,74.78 L478.9,74.92 L480.6,75.07 L482.3,75.24 L484.1,75.42 L485.8,75.61 L487.5,75.83 L489.2,76.09 L490.9,76.40 L492.7,76.76 L494.4,77.16 L496.1,77.58 L497.8,78.01 L499.5,78.43 L501.3,78.83 L503.0,79.20 L504.7,79.08 L506.4,78.84 L508.2,78.59 L509.9,78.34 L511.6,78.09 L513.3,77.84 L515.0,77.59 L516.8,77.34 L518.5,77.09 L520.2,76.85 L521.9,76.60 L523.6,76.35 L525.4,76.10 L527.1,75.85 L528.8,75.60 L530.5,75.35 L532.3,75.11 L534.0,74.86 L535.7,74.61 L537.4,74.36 L539.1,74.11 L540.9,73.86 L542.6,73.61 L544.3,73.36 L546.0,73.12 L547.7,72.87 L549.5,72.62 L551.2,72.37 L552.9,72.12 L554.6,71.87 L556.4,71.62 L558.1,71.37 L559.8,71.13 L561.5,70.88 L563.2,70.63 L565.0,70.38 L566.7,70.13 L568.4,69.88 L570.1,69.63 L571.8,69.38 L573.6,69.14 L575.3,68.89 L577.0,68.64 L578.7,68.39 L580.4,68.14 L582.2,67.89 L583.9,67.64 L585.6,67.39 L587.3,67.15 L589.1,66.90 L590.8,66.65 L592.5,66.40 L594.2,66.15 L595.9,65.90 L597.7,65.65 L599.4,65.40 L601.1,65.16 L602.8,64.91 L604.5,64.66 L606.3,64.41 L608.0,64.16 L609.7,63.91 L611.4,63.66 L613.2,63.41 L614.9,63.17 L616.6,62.92 L618.3,62.67 L620.0,62.42 L621.8,62.17 L623.5,61.92 L625.2,61.67 L626.9,61.43 L628.6,61.18 L630.4,60.93 L632.1,60.68 L633.8,60.43 L635.5,60.18 L637.3,59.93 L639.0,59.68 L640.7,59.44 L642.4,59.19 L644.1,58.94 L645.9,58.69 L647.6,58.44 L649.3,58.19 L651.0,57.94 L652.7,57.69 L654.5,57.45 L656.2,57.20 L657.9,56.95 L659.6,56.70 L661.4,56.45 L663.1,56.20 L664.8,55.95 L666.5,55.70 L668.2,55.46 L670.0,55.21 L671.7,54.96 L673.4,54.71 L673.4,135.25 L671.7,134.82 L670.0,134.40 L668.2,133.98 L666.5,133.56 L664.8,133.13 L663.1,132.71 L661.4,132.29 L659.6,131.87 L657.9,131.45 L656.2,131.02 L654.5,130.60 L652.7,130.18 L651.0,129.76 L649.3,129.34 L647.6,128.91 L645.9,128.49 L644.1,128.07 L642.4,127.65 L640.7,127.23 L639.0,126.81 L637.3,126.39 L635.5,125.97 L633.8,125.54 L632.1,125.12 L630.4,124.70 L628.6,124.28 L626.9,123.86 L625.2,123.44 L623.5,123.02 L621.8,122.60 L620.0,122.17 L618.3,121.74 L616.6,121.31 L614.9,120.88 L613.2,120.44 L611.4,120.00 L609.7,119.56 L608.0,119.12 L606.3,118.68 L604.5,118.24 L602.8,117.80 L601.1,117.36 L599.4,116.92 L597.7,116.49 L595.9,116.05 L594.2,115.62 L592.5,115.19 L590.8,114.77 L589.1,114.35 L587.3,113.93 L585.6,113.52 L583.9,113.12 L582.2,112.72 L580.4,112.32 L578.7,111.94 L577.0,111.56 L575.3,111.18 L573.6,110.82 L571.8,110.46 L570.1,110.12 L568.4,109.80 L566.7,109.48 L565.0,109.16 L563.2,108.84 L561.5,108.53 L559.8,108.21 L558.1,107.90 L556.4,107.59 L554.6,107.29 L552.9,106.98 L551.2,106.67 L549.5,106.36 L547.7,106.05 L546.0,105.73 L544.3,105.40 L542.6,105.06 L540.9,104.69 L539.1,104.31 L537.4,103.92 L535.7,103.51 L534.0,103.11 L532.3,102.70 L530.5,102.30 L528.8,101.92 L527.1,101.55 L525.4,101.20 L523.6,100.87 L521.9,100.58 L520.2,100.33 L518.5,100.10 L516.8,99.87 L515.0,99.64 L513.3,99.43 L511.6,99.22 L509.9,99.03 L508.2,98.85 L506.4,98.69 L504.7,98.55 L503.0,98.44 L501.3,98.35 L499.5,98.29 L497.8,98.23 L496.1,98.18 L494.4,98.14 L492.7,98.09 L490.9,98.05 L489.2,98.02 L487.5,97.99 L485.8,97.96 L484.1,97.94 L482.3,97.92 L480.6,97.91 L478.9,97.90 L477.2,97.90 L475.5,97.91 L473.7,97.93 L472.0,97.96 L470.3,98.00 L468.6,98.04 L466.8,98.09 L465.1,98.15 L463.4,98.21 L461.7,98.28 L460.0,98.35 L458.2,98.43 L456.5,98.51 L454.8,98.60 L453.1,98.68 L451.4,98.77 L449.6,98.86 L447.9,98.95 L446.2,99.04 L444.5,99.13 L442.7,99.21 L441.0,99.30 L439.3,99.40 L437.6,99.50 L435.9,99.61 L434.1,99.73 L432.4,99.85 L430.7,99.98 L429.0,100.13 L427.3,100.28 L425.5,100.44 L423.8,100.61 L422.1,100.79 L420.4,100.98 L418.6,101.19 L416.9,101.40 L415.2,101.62 L413.5,101.86 L411.8,102.10 L410.0,102.35 L408.3,102.62 L406.6,102.89 L404.9,103.17 L403.2,103.47 L401.4,103.77 L399.7,104.08 L398.0,104.41 L396.3,104.74 L394.5,105.08 L392.8,105.43 L391.1,105.79 L389.4,106.16 L387.7,106.54 L385.9,106.93 L384.2,107.33 L382.5,107.74 Z" fill="#fff"/><path d="M382.5,86.08 L384.2,85.95 L385.9,85.82 L387.7,85.70 L389.4,85.57 L391.1,85.46 L392.8,85.34 L394.5,85.23 L396.3,85.12 L398.0,85.01 L399.7,84.91 L401.4,84.80 L403.2,84.70 L404.9,84.61 L406.6,84.51 L408.3,84.42 L410.0,84.34 L411.8,84.25 L413.5,84.17 L415.2,84.09 L416.9,84.01 L418.6,83.94 L420.4,83.87 L422.1,83.80 L423.8,83.73 L425.5,83.67 L427.3,83.61 L429.0,83.55 L430.7,83.50 L432.4,83.45 L434.1,83.40 L435.9,83.35 L437.6,83.31 L439.3,83.27 L441.0,83.23 L442.7,83.20 L444.5,83.16 L446.2,83.14 L447.9,83.11 L449.6,83.09 L451.4,83.07 L453.1,83.05 L454.8,83.03 L456.5,83.02 L458.2,83.01 L460.0,83.00 L461.7,83.00 L463.4,83.00 L465.1,83.00 L466.8,83.01 L468.6,83.03 L470.3,83.04 L472.0,83.06 L473.7,83.09 L475.5,83.12 L477.2,83.06 L478.9,82.82 L480.6,82.57 L482.3,82.32 L484.1,82.07 L485.8,81.82 L487.5,81.57 L489.2,81.32 L490.9,81.07 L492.7,80.83 L494.4,80.58 L496.1,80.33 L497.8,80.08 L499.5,79.83 L501.3,79.58 L503.0,79.33 L504.7,79.08 L506.4,78.84 L508.2,78.59 L509.9,78.34 L511.6,78.09 L513.3,77.84 L515.0,77.59 L516.8,77.34 L518.5,77.09 L520.2,76.85 L521.9,76.60 L523.6,76.35 L525.4,76.10 L527.1,75.85 L528.8,75.60 L530.5,75.35 L532.3,75.11 L534.0,74.86 L535.7,74.61 L537.4,74.36 L539.1,74.11 L540.9,73.86 L542.6,73.61 L544.3,73.36 L546.0,73.12 L547.7,72.87 L549.5,72.62 L551.2,72.37 L552.9,72.12 L554.6,71.87 L556.4,71.62 L558.1,71.37 L559.8,71.13 L561.5,70.88 L563.2,70.63 L565.0,70.38 L566.7,70.13 L568.4,69.88 L570.1,69.63 L571.8,69.38 L573.6,69.14 L575.3,68.89 L577.0,68.64 L578.7,68.39 L580.4,68.14 L582.2,67.89 L583.9,67.64 L585.6,67.39 L587.3,67.15 L589.1,66.90 L590.8,66.65 L592.5,66.40 L594.2,66.15 L595.9,65.90 L597.7,65.65 L599.4,65.40 L601.1,65.16 L602.8,64.91 L604.5,64.66 L606.3,64.41 L608.0,64.16 L609.7,63.91 L611.4,63.66 L613.2,63.41 L614.9,63.17 L616.6,62.92 L618.3,62.67 L620.0,62.42 L621.8,62.17 L623.5,61.92 L625.2,61.67 L626.9,61.43 L628.6,61.18 L630.4,60.93 L632.1,60.68 L633.8,60.43 L635.5,60.18 L637.3,59.93 L639.0,59.68 L640.7,59.44 L642.4,59.19 L644.1,58.94 L645.9,58.69 L647.6,58.44 L649.3,58.19 L651.0,57.94 L652.7,57.69 L654.5,57.45 L656.2,57.20 L657.9,56.95 L659.6,56.70 L661.4,56.45 L663.1,56.20 L664.8,55.95 L666.5,55.70 L668.2,55.46 L670.0,55.21 L671.7,54.96 L673.4,54.71 L673.4,107.00 L671.7,107.00 L670.0,107.00 L668.2,107.00 L666.5,107.00 L664.8,107.00 L663.1,107.00 L661.4,107.00 L659.6,107.00 L657.9,107.00 L656.2,107.00 L654.5,107.00 L652.7,107.00 L651.0,107.00 L649.3,107.00 L647.6,107.00 L645.9,107.00 L644.1,107.00 L642.4,107.00 L640.7,107.00 L639.0,107.00 L637.3,107.00 L635.5,107.00 L633.8,107.00 L632.1,107.00 L630.4,107.00 L628.6,107.00 L626.9,107.00 L625.2,107.01 L623.5,107.03 L621.8,107.08 L620.0,107.14 L618.3,107.22 L616.6,107.32 L614.9,107.42 L613.2,107.53 L611.4,107.65 L609.7,107.78 L608.0,107.91 L606.3,108.04 L604.5,108.17 L602.8,108.30 L601.1,108.42 L599.4,108.54 L597.7,108.67 L595.9,108.82 L594.2,108.97 L592.5,109.12 L590.8,109.29 L589.1,109.46 L587.3,109.62 L585.6,109.79 L583.9,109.95 L582.2,110.11 L580.4,110.26 L578.7,110.40 L577.0,110.53 L575.3,110.65 L573.6,110.74 L571.8,110.83 L570.1,110.92 L568.4,111.00 L566.7,111.09 L565.0,111.19 L563.2,111.30 L561.5,111.44 L559.8,111.59 L558.1,111.75 L556.4,111.93 L554.6,112.12 L552.9,112.33 L551.2,112.54 L549.5,112.77 L547.7,113.02 L546.0,113.27 L544.3,113.53 L542.6,113.81 L540.9,114.09 L539.1,114.42 L537.4,114.78 L535.7,115.18 L534.0,115.60 L532.3,116.04 L530.5,116.50 L528.8,116.96 L527.1,117.42 L525.4,117.89 L523.6,118.38 L521.9,118.89 L520.2,119.42 L518.5,119.95 L516.8,120.49 L515.0,121.03 L513.3,121.56 L511.6,122.08 L509.9,122.60 L508.2,123.11 L506.4,123.61 L504.7,124.12 L503.0,124.64 L501.3,125.16 L499.5,125.69 L497.8,126.23 L496.1,126.80 L494.4,127.39 L492.7,128.01 L490.9,128.64 L489.2,129.27 L487.5,129.89 L485.8,130.49 L484.1,131.07 L482.3,131.60 L480.6,132.10 L478.9,132.58 L477.2,133.04 L475.5,133.50 L473.7,133.95 L472.0,134.41 L470.3,134.89 L468.6,135.37 L466.8,135.85 L465.1,136.33 L463.4,136.82 L461.7,137.30 L460.0,137.79 L458.2,138.28 L456.5,138.77 L454.8,139.26 L453.1,139.75 L451.4,140.25 L449.6,140.75 L447.9,141.26 L446.2,141.76 L444.5,142.28 L442.7,142.79 L441.0,143.31 L439.3,143.84 L437.6,144.38 L435.9,144.93 L434.1,145.48 L432.4,146.03 L430.7,146.59 L429.0,147.16 L427.3,147.72 L425.5,148.29 L423.8,148.85 L422.1,149.42 L420.4,149.98 L418.6,150.54 L416.9,151.10 L415.2,151.65 L413.5,152.20 L411.8,152.74 L410.0,153.27 L408.3,153.81 L406.6,154.34 L404.9,154.87 L403.2,155.40 L401.4,155.93 L399.7,156.45 L398.0,156.97 L396.3,157.49 L394.5,158.01 L392.8,158.53 L391.1,159.05 L389.4,159.56 L387.7,160.07 L385.9,160.58 L384.2,161.09 L382.5,161.59 Z" fill="#fff"/><circle cx="404.50" cy="88.30" r="4.75" fill="#000"/><circle cx="420.30" cy="92.00" r="4.75" fill="#000"/><circle cx="462.70" cy="89.60" r="4.75" fill="#000"/><circle cx="472.90" cy="88.40" r="4.75" fill="#000"/><circle cx="532.40" cy="71.50" r="4.75" fill="#000"/><circle cx="510.00" cy="78.80" r="4.75" fill="#000"/><circle cx="551.70" cy="74.20" r="4.75" fill="#000"/><circle cx="588.20" cy="60.30" r="4.75" fill="#000"/><circle cx="607.00" cy="56.50" r="4.75" fill="#000"/><circle cx="603.00" cy="68.90" r="4.75" fill="#000"/><circle cx="609.20" cy="66.50" r="4.75" fill="#000"/><circle cx="661.50" cy="61.80" r="4.75" fill="#000"/><circle cx="553.00" cy="74.90" r="4.75" fill="#000"/><circle cx="430.50" cy="82.70" r="4.75" fill="#000"/><circle cx="450.30" cy="80.30" r="4.75" fill="#000"/><circle cx="402.40" cy="88.50" r="4.75" fill="#000"/><circle cx="442.20" cy="86.80" r="4.75" fill="#000"/><circle cx="461.50" cy="85.10" r="4.75" fill="#000"/><circle cx="545.00" cy="78.80" r="4.75" fill="#000"/><circle cx="565.70" cy="71.00" r="4.75" fill="#000"/><circle cx="623.40" cy="54.70" r="4.75" fill="#000"/><circle cx="634.00" cy="55.00" r="4.75" fill="#000"/><circle cx="665.20" cy="60.00" r="4.75" fill="#000"/><circle cx="434.70" cy="88.80" r="4.75" fill="#000"/><circle cx="452.90" cy="88.80" r="4.75" fill="#000"/><circle cx="491.60" cy="84.80" r="4.75" fill="#000"/><circle cx="498.60" cy="85.40" r="4.75" fill="#000"/><circle cx="516.70" cy="80.40" r="4.75" fill="#000"/><circle cx="597.20" cy="63.30" r="4.75" fill="#000"/><circle cx="642.90" cy="56.50" r="4.75" fill="#000"/><circle cx="654.10" cy="49.90" r="4.75" fill="#000"/><circle cx="659.20" cy="54.40" r="4.75" fill="#000"/><circle cx="669.00" cy="48.80" r="4.75" fill="#000"/><circle cx="670.60" cy="59.10" r="4.75" fill="#000"/><circle cx="615.00" cy="69.80" r="4.75" fill="#000"/><circle cx="619.60" cy="67.00" r="4.75" fill="#000"/><circle cx="626.20" cy="67.90" r="4.75" fill="#000"/></mask>
<line mask="url(#m1)" x1="383.50" y1="95.30" x2="672.40" y2="53.55" stroke="#b0dae8" stroke-opacity="0.50" stroke-width="4.40"/>
<line x1="383.50" y1="96.60" x2="672.40" y2="54.85" stroke="#111" stroke-width="2.1" stroke-dasharray="7.76 3.36"/>
</g>
<rect x="383.50" y="13.34" width="288.90" height="238.33" fill="none" stroke="#d0d0d0" stroke-width="1.1"/>
<text class="s" transform="translate(14.75,17.34) scale(1,1.160)" font-size="7.40" fill="#000">10</text><text class="s" transform="translate(22.75,11.74) scale(1,1.100)" font-size="5.60" fill="#000">&#8722;2</text>
<text class="s" transform="translate(14.75,77.42) scale(1,1.160)" font-size="7.40" fill="#000">10</text><text class="s" transform="translate(22.75,71.82) scale(1,1.100)" font-size="5.60" fill="#000">&#8722;3</text>
<text class="s" transform="translate(14.75,137.00) scale(1,1.160)" font-size="7.40" fill="#000">10</text><text class="s" transform="translate(22.75,131.41) scale(1,1.100)" font-size="5.60" fill="#000">&#8722;4</text>
<text class="s" transform="translate(14.75,195.99) scale(1,1.160)" font-size="7.40" fill="#000">10</text><text class="s" transform="translate(22.75,190.39) scale(1,1.100)" font-size="5.60" fill="#000">&#8722;5</text>
<text class="s" transform="translate(14.75,256.17) scale(1,1.160)" font-size="7.40" fill="#000">10</text><text class="s" transform="translate(22.75,250.57) scale(1,1.100)" font-size="5.60" fill="#000">&#8722;6</text>
<text class="s" transform="translate(22.75,265.80) scale(1,1.160)" font-size="7.40" fill="#000">4</text><text class="s" transform="translate(29.05,265.80) scale(1,1.160)" font-size="7.40" fill="#000">&#215;</text><text class="s" transform="translate(35.15,265.80) scale(1,1.160)" font-size="7.40" fill="#000">10</text><text class="s" transform="translate(43.35,260.90) scale(1,1.100)" font-size="5.60" fill="#000">&#8722;4</text>
<text class="s" transform="translate(95.34,265.80) scale(1,1.160)" font-size="7.40" fill="#000">6</text><text class="s" transform="translate(101.64,265.80) scale(1,1.160)" font-size="7.40" fill="#000">&#215;</text><text class="s" transform="translate(107.74,265.80) scale(1,1.160)" font-size="7.40" fill="#000">10</text><text class="s" transform="translate(115.94,260.90) scale(1,1.100)" font-size="5.60" fill="#000">&#8722;4</text>
<text class="s" transform="translate(193.20,266.60) scale(1,1.160)" font-size="7.40" fill="#000">10</text><text class="s" transform="translate(201.70,262.00) scale(1,1.100)" font-size="5.60" fill="#000">&#8722;3</text>
<text class="s" transform="translate(310.90,265.80) scale(1,1.160)" font-size="7.40" fill="#000">2</text><text class="s" transform="translate(317.20,265.80) scale(1,1.160)" font-size="7.40" fill="#000">&#215;</text><text class="s" transform="translate(323.30,265.80) scale(1,1.160)" font-size="7.40" fill="#000">10</text><text class="s" transform="translate(331.50,260.90) scale(1,1.100)" font-size="5.60" fill="#000">&#8722;3</text>
<text x="180.43" y="280.6" font-size="12.5" text-anchor="middle" fill="#000">Total loss</text>
<text transform="translate(8.75,133.20) rotate(-90)" font-size="12.5" text-anchor="middle" fill="#000">MAE</text>
<text x="179.73" y="9.1" font-size="12.5" text-anchor="middle" fill="#000">MAE vs for various hidden layers</text>
<rect x="218.70" y="175.0" width="99.8" height="70.2" rx="2.5" ry="2.5" fill="#fff" fill-opacity="0.8" stroke="#dcdcdc" stroke-width="1"/>
<text class="a" x="246.00" y="185.6" font-size="8.4" fill="#000">Architecture</text>
<circle cx="235.60" cy="199.30" r="3.80" fill="rgb(0,28,127)" fill-opacity="0.88"/>
<text class="l" x="258.70" y="202.60" font-size="12.5" fill="#000">16-16-32*</text>
<circle cx="235.60" cy="217.05" r="3.80" fill="rgb(177,64,13)" fill-opacity="0.88"/>
<text class="l" x="258.70" y="220.35" font-size="12.5" fill="#000">16-31-17</text>
<circle cx="235.60" cy="234.80" r="3.80" fill="rgb(18,113,28)" fill-opacity="0.88"/>
<text class="l" x="258.70" y="238.10" font-size="12.5" fill="#000">28-35-1</text>
<text class="s" transform="translate(361.90,17.34) scale(1,1.160)" font-size="7.40" fill="#000">10</text><text class="s" transform="translate(369.90,11.74) scale(1,1.100)" font-size="5.60" fill="#000">&#8722;2</text>
<text class="s" transform="translate(361.90,77.42) scale(1,1.160)" font-size="7.40" fill="#000">10</text><text class="s" transform="translate(369.90,71.82) scale(1,1.100)" font-size="5.60" fill="#000">&#8722;3</text>
<text class="s" transform="translate(361.90,137.00) scale(1,1.160)" font-size="7.40" fill="#000">10</text><text class="s" transform="translate(369.90,131.41) scale(1,1.100)" font-size="5.60" fill="#000">&#8722;4</text>
<text class="s" transform="translate(361.90,195.99) scale(1,1.160)" font-size="7.40" fill="#000">10</text><text class="s" transform="translate(369.90,190.39) scale(1,1.100)" font-size="5.60" fill="#000">&#8722;5</text>
<text class="s" transform="translate(361.90,256.17) scale(1,1.160)" font-size="7.40" fill="#000">10</text><text class="s" transform="translate(369.90,250.57) scale(1,1.100)" font-size="5.60" fill="#000">&#8722;6</text>
<text class="s" transform="translate(369.90,265.80) scale(1,1.160)" font-size="7.40" fill="#000">4</text><text class="s" transform="translate(376.20,265.80) scale(1,1.160)" font-size="7.40" fill="#000">&#215;</text><text class="s" transform="translate(382.30,265.80) scale(1,1.160)" font-size="7.40" fill="#000">10</text><text class="s" transform="translate(390.50,260.90) scale(1,1.100)" font-size="5.60" fill="#000">&#8722;4</text>
<text class="s" transform="translate(442.68,265.80) scale(1,1.160)" font-size="7.40" fill="#000">6</text><text class="s" transform="translate(448.98,265.80) scale(1,1.160)" font-size="7.40" fill="#000">&#215;</text><text class="s" transform="translate(455.08,265.80) scale(1,1.160)" font-size="7.40" fill="#000">10</text><text class="s" transform="translate(463.28,260.90) scale(1,1.100)" font-size="5.60" fill="#000">&#8722;4</text>
<text class="s" transform="translate(540.78,266.60) scale(1,1.160)" font-size="7.40" fill="#000">10</text><text class="s" transform="translate(549.28,262.00) scale(1,1.100)" font-size="5.60" fill="#000">&#8722;3</text>
<text class="s" transform="translate(658.80,265.80) scale(1,1.160)" font-size="7.40" fill="#000">2</text><text class="s" transform="translate(665.10,265.80) scale(1,1.160)" font-size="7.40" fill="#000">&#215;</text><text class="s" transform="translate(671.20,265.80) scale(1,1.160)" font-size="7.40" fill="#000">10</text><text class="s" transform="translate(679.40,260.90) scale(1,1.100)" font-size="5.60" fill="#000">&#8722;3</text>
<text x="527.95" y="280.6" font-size="12.5" text-anchor="middle" fill="#000">Total loss</text>
<text transform="translate(355.90,133.20) rotate(-90)" font-size="12.5" text-anchor="middle" fill="#000">MSE</text>
<text x="527.25" y="9.1" font-size="12.5" text-anchor="middle" fill="#000">MSE vs total loss for various hidden layers</text>
<rect x="390.40" y="175.0" width="99.8" height="70.2" rx="2.5" ry="2.5" fill="#fff" fill-opacity="0.8" stroke="#dcdcdc" stroke-width="1"/>
<text class="a" x="417.70" y="185.6" font-size="8.4" fill="#000">Architecture</text>
<circle cx="407.30" cy="199.30" r="4.40" fill="rgb(0,28,127)" fill-opacity="0.88"/>
<text class="l" x="430.40" y="202.60" font-size="12.5" fill="#000">16-16-32*</text>
<circle cx="407.30" cy="217.05" r="4.40" fill="rgb(177,64,13)" fill-opacity="0.88"/>
<text class="l" x="430.40" y="220.35" font-size="12.5" fill="#000">16-31-17</text>
<circle cx="407.30" cy="234.80" r="4.40" fill="rgb(18,113,28)" fill-opacity="0.88"/>
<text class="l" x="430.40" y="238.10" font-size="12.5" fill="#000">28-35-1</text>
</svg></body></html>
